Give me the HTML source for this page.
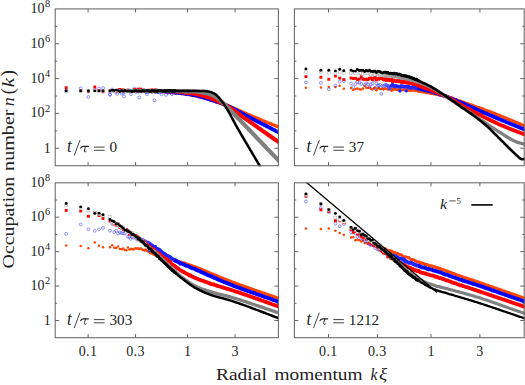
<!DOCTYPE html>
<html><head><meta charset="utf-8"><title>Occupation number</title>
<style>html,body{margin:0;padding:0;background:#fff}body{width:525px;height:385px;overflow:hidden;font-family:"Liberation Serif",serif}svg{display:block}</style>
</head><body>
<svg width="525" height="385" viewBox="0 0 525 385">
<defs>
<clipPath id="c1"><rect x="55.2" y="8.9" width="223.79999999999998" height="157.29999999999998"/></clipPath>
<clipPath id="c2"><rect x="294.4" y="8.9" width="230.40000000000006" height="157.29999999999998"/></clipPath>
<clipPath id="c3"><rect x="55.2" y="182.8" width="223.79999999999998" height="155.39999999999998"/></clipPath>
<clipPath id="c4"><rect x="294.4" y="182.8" width="230.40000000000006" height="155.39999999999998"/></clipPath>
</defs>
<rect width="525" height="385" fill="#fff"/>
<g clip-path="url(#c1)">
<g fill="#ff4500"><circle cx="66.2" cy="90.4" r="1.25"/><circle cx="80.7" cy="90.5" r="1.25"/><circle cx="88.4" cy="90.5" r="1.25"/><circle cx="94.8" cy="90.6" r="1.25"/><circle cx="99.0" cy="90.6" r="1.25"/><circle cx="103.0" cy="90.7" r="1.25"/><circle cx="110.0" cy="90.7" r="1.25"/><circle cx="112.2" cy="90.8" r="1.25"/><circle cx="114.2" cy="91.0" r="1.25"/><circle cx="116.2" cy="90.6" r="1.25"/><circle cx="118.1" cy="90.1" r="1.25"/><circle cx="119.9" cy="90.5" r="1.25"/><circle cx="121.6" cy="90.2" r="1.25"/><circle cx="123.2" cy="90.9" r="1.25"/><circle cx="124.8" cy="91.8" r="1.25"/><circle cx="126.4" cy="90.6" r="1.25"/><circle cx="127.9" cy="90.6" r="1.25"/><circle cx="129.3" cy="91.3" r="1.25"/><circle cx="130.7" cy="91.2" r="1.25"/><circle cx="132.0" cy="91.1" r="1.25"/><circle cx="133.4" cy="90.5" r="1.25"/><circle cx="134.6" cy="91.0" r="1.25"/><circle cx="135.9" cy="91.4" r="1.25"/><circle cx="137.1" cy="90.4" r="1.25"/><circle cx="138.2" cy="90.8" r="1.25"/><circle cx="139.4" cy="90.2" r="1.25"/><circle cx="140.5" cy="90.5" r="1.25"/><circle cx="141.5" cy="90.3" r="1.25"/><circle cx="142.6" cy="91.0" r="1.25"/><circle cx="143.6" cy="90.6" r="1.25"/><circle cx="144.6" cy="91.3" r="1.25"/><circle cx="145.6" cy="91.3" r="1.25"/><circle cx="146.6" cy="91.1" r="1.25"/><circle cx="147.5" cy="90.2" r="1.25"/><circle cx="148.4" cy="91.0" r="1.25"/><circle cx="149.3" cy="91.3" r="1.25"/><circle cx="150.2" cy="91.3" r="1.25"/><circle cx="151.1" cy="90.7" r="1.25"/><circle cx="151.9" cy="91.2" r="1.25"/><circle cx="152.8" cy="91.0" r="1.25"/><circle cx="153.6" cy="91.1" r="1.25"/><circle cx="154.4" cy="91.8" r="1.25"/><circle cx="155.2" cy="91.1" r="1.25"/><circle cx="155.9" cy="91.4" r="1.25"/><circle cx="156.7" cy="91.8" r="1.25"/><circle cx="157.4" cy="91.3" r="1.25"/><circle cx="158.2" cy="91.5" r="1.25"/><circle cx="158.9" cy="91.6" r="1.25"/><circle cx="159.6" cy="91.6" r="1.25"/><circle cx="160.3" cy="91.2" r="1.25"/><circle cx="161.0" cy="91.7" r="1.25"/><circle cx="161.6" cy="92.1" r="1.25"/><circle cx="162.3" cy="91.2" r="1.25"/><circle cx="163.0" cy="92.0" r="1.25"/><circle cx="163.6" cy="91.8" r="1.25"/><circle cx="164.2" cy="91.6" r="1.25"/><circle cx="164.9" cy="92.4" r="1.25"/><circle cx="165.5" cy="92.1" r="1.25"/><circle cx="166.1" cy="91.6" r="1.25"/><circle cx="166.7" cy="92.0" r="1.25"/><circle cx="167.3" cy="92.2" r="1.25"/><circle cx="167.9" cy="92.0" r="1.25"/><circle cx="168.4" cy="92.3" r="1.25"/><circle cx="169.0" cy="92.2" r="1.25"/><circle cx="169.6" cy="92.4" r="1.25"/><circle cx="170.1" cy="92.6" r="1.25"/><circle cx="170.7" cy="92.2" r="1.25"/><circle cx="171.2" cy="92.4" r="1.25"/><circle cx="171.8" cy="92.3" r="1.25"/><circle cx="172.3" cy="92.5" r="1.25"/><circle cx="172.8" cy="92.2" r="1.25"/><circle cx="173.3" cy="92.4" r="1.25"/><circle cx="173.8" cy="92.6" r="1.25"/><circle cx="174.3" cy="92.9" r="1.25"/><circle cx="174.8" cy="93.0" r="1.25"/><circle cx="175.3" cy="92.5" r="1.25"/></g>
<polyline points="174.8,92.6 175.5,92.9 176.2,92.6 176.9,92.9 177.6,93.0 178.3,93.3 179.0,93.3 179.7,93.2 180.4,93.3 181.1,93.4 181.8,93.7 182.5,93.6 183.2,93.7 183.9,93.9 184.6,93.9 185.3,94.0 186.0,94.0 186.7,94.2 187.4,94.3 188.1,94.6 188.8,94.7 189.5,94.7 190.2,94.9 190.9,94.9 191.6,95.2 192.3,95.2 193.0,95.4 193.7,95.4 194.4,95.7 195.1,95.6 195.8,95.8 196.5,96.1 197.2,96.2 197.9,96.5 198.6,96.8 199.3,96.8 200.0,97.0 200.7,97.2 201.4,97.4 202.1,97.6 202.8,97.8 203.5,98.0 204.2,98.2 204.9,98.3 205.6,98.6 206.3,98.8 207.0,98.9 207.7,99.2 208.4,99.3 209.1,99.6 209.8,99.8 210.5,100.0 211.2,100.1 211.9,100.4 212.6,100.5 213.3,100.7 214.0,101.0 214.7,101.1 215.4,101.5 216.1,101.6 216.8,102.0 217.5,102.1 218.2,102.4 218.9,102.6 219.6,102.7 220.3,103.1 221.0,103.4 221.7,103.5 222.4,103.8 223.1,104.0 223.8,104.2 224.5,104.6 225.2,104.8 225.9,105.0 226.6,105.3 227.3,105.5 228.0,105.8 228.7,106.2 229.4,106.4 230.1,106.7 230.8,107.0 231.5,107.2 232.2,107.5 232.9,107.8 233.6,108.1 234.3,108.4 235.0,108.7 235.7,109.0 236.4,109.3 237.1,109.7 237.8,109.9 238.5,110.2 239.2,110.5 239.9,110.9 240.6,111.1 241.3,111.4 242.0,111.7 242.7,112.0 243.4,112.4 244.1,112.7 244.8,113.0 245.5,113.3 246.2,113.6 246.9,113.9 247.6,114.2 248.3,114.5 249.0,114.8 249.7,115.1 250.4,115.4 251.1,115.7 251.8,116.0 252.5,116.2 253.2,116.5 253.9,116.9 254.6,117.1 255.3,117.4 256.0,117.7 256.7,118.0 257.4,118.3 258.1,118.6 258.8,118.9 259.5,119.2 260.2,119.5 260.9,119.8 261.6,120.1 262.3,120.4 263.0,120.7 263.7,121.0 264.4,121.3 265.1,121.5 265.8,121.9 266.5,122.1 267.2,122.4 267.9,122.7 268.6,123.0 269.3,123.3 270.0,123.6 270.7,123.8 271.4,124.1 272.1,124.4 272.8,124.7 273.5,125.0 274.2,125.3 274.9,125.5 275.6,125.8 276.3,126.1 277.0,126.4 277.7,126.6 278.4,126.9 279.1,127.2 279.8,127.4 280.5,127.7" fill="none" stroke="#ff4500" stroke-width="3.3" stroke-linejoin="round"/>
<g fill="none" stroke="#33f" stroke-width="0.5"><circle cx="66.2" cy="90.4" r="1.45"/><circle cx="80.7" cy="88.3" r="1.45"/><circle cx="88.4" cy="97.0" r="1.45"/><circle cx="94.8" cy="89.4" r="1.45"/><circle cx="99.0" cy="88.4" r="1.45"/><circle cx="103.0" cy="88.1" r="1.45"/><circle cx="110.0" cy="94.7" r="1.45"/><circle cx="112.2" cy="89.6" r="1.45"/><circle cx="114.2" cy="91.4" r="1.45"/><circle cx="116.2" cy="91.3" r="1.45"/><circle cx="118.1" cy="90.1" r="1.45"/><circle cx="119.9" cy="89.9" r="1.45"/><circle cx="121.6" cy="93.8" r="1.45"/><circle cx="123.2" cy="92.9" r="1.45"/><circle cx="124.8" cy="91.8" r="1.45"/><circle cx="126.4" cy="90.9" r="1.45"/><circle cx="127.9" cy="90.5" r="1.45"/><circle cx="129.3" cy="90.9" r="1.45"/><circle cx="130.7" cy="90.7" r="1.45"/><circle cx="132.0" cy="91.0" r="1.45"/><circle cx="133.4" cy="90.5" r="1.45"/><circle cx="134.6" cy="88.5" r="1.45"/><circle cx="135.9" cy="92.1" r="1.45"/><circle cx="137.1" cy="90.2" r="1.45"/><circle cx="138.2" cy="91.9" r="1.45"/><circle cx="139.4" cy="91.1" r="1.45" fill="#ededff"/><circle cx="140.5" cy="91.1" r="1.45" fill="#dadaff"/><circle cx="141.5" cy="91.5" r="1.45" fill="#c6c6ff"/><circle cx="142.6" cy="90.4" r="1.45" fill="#b2b2ff"/><circle cx="143.6" cy="90.7" r="1.45" fill="#9f9fff"/><circle cx="144.6" cy="90.4" r="1.45" fill="#8b8bff"/><circle cx="145.6" cy="91.2" r="1.45" fill="#7777ff"/><circle cx="146.6" cy="92.2" r="1.45" fill="#6464ff"/><circle cx="147.5" cy="90.9" r="1.45" fill="#5050ff"/><circle cx="148.4" cy="91.4" r="1.45" fill="#3c3cff"/><circle cx="149.3" cy="91.4" r="1.45" fill="#2929ff"/><circle cx="150.2" cy="91.3" r="1.45" fill="#1818ff"/><circle cx="151.1" cy="91.1" r="1.45" fill="#1818ff"/><circle cx="151.9" cy="91.9" r="1.45" fill="#1818ff"/><circle cx="152.8" cy="91.3" r="1.45" fill="#1818ff"/><circle cx="153.6" cy="91.0" r="1.45" fill="#1818ff"/><circle cx="154.4" cy="90.4" r="1.45" fill="#1818ff"/><circle cx="155.2" cy="91.9" r="1.45" fill="#1818ff"/><circle cx="155.9" cy="91.7" r="1.45" fill="#1818ff"/><circle cx="156.7" cy="91.5" r="1.45" fill="#1818ff"/><circle cx="157.4" cy="91.3" r="1.45" fill="#1818ff"/><circle cx="158.2" cy="92.2" r="1.45" fill="#1818ff"/><circle cx="158.9" cy="91.4" r="1.45" fill="#1818ff"/><circle cx="159.6" cy="91.2" r="1.45" fill="#1818ff"/><circle cx="160.3" cy="91.7" r="1.45" fill="#1818ff"/><circle cx="161.0" cy="91.4" r="1.45" fill="#1818ff"/><circle cx="161.6" cy="91.5" r="1.45" fill="#1818ff"/><circle cx="162.3" cy="91.4" r="1.45" fill="#1818ff"/><circle cx="163.0" cy="91.5" r="1.45" fill="#1818ff"/><circle cx="163.6" cy="91.0" r="1.45" fill="#1818ff"/><circle cx="164.2" cy="91.3" r="1.45" fill="#1818ff"/><circle cx="164.9" cy="91.4" r="1.45" fill="#1818ff"/><circle cx="165.5" cy="91.2" r="1.45" fill="#1818ff"/><circle cx="166.1" cy="91.7" r="1.45" fill="#1818ff"/><circle cx="166.7" cy="91.9" r="1.45" fill="#1818ff"/><circle cx="167.3" cy="91.5" r="1.45" fill="#1818ff"/><circle cx="167.9" cy="92.7" r="1.45" fill="#1818ff"/><circle cx="168.4" cy="91.9" r="1.45" fill="#1818ff"/><circle cx="169.0" cy="92.1" r="1.45" fill="#1818ff"/><circle cx="169.6" cy="91.6" r="1.45" fill="#1818ff"/><circle cx="170.1" cy="91.7" r="1.45" fill="#1818ff"/><circle cx="170.7" cy="92.7" r="1.45" fill="#1818ff"/><circle cx="171.2" cy="92.3" r="1.45" fill="#1818ff"/><circle cx="171.8" cy="92.1" r="1.45" fill="#1818ff"/><circle cx="172.3" cy="91.7" r="1.45" fill="#1818ff"/><circle cx="172.8" cy="92.8" r="1.45" fill="#1818ff"/><circle cx="173.3" cy="92.0" r="1.45" fill="#1818ff"/><circle cx="173.8" cy="92.2" r="1.45" fill="#1818ff"/><circle cx="174.3" cy="92.3" r="1.45" fill="#1818ff"/><circle cx="174.8" cy="92.5" r="1.45" fill="#1818ff"/><circle cx="175.3" cy="92.5" r="1.45" fill="#1818ff"/></g>
<polyline points="174.8,92.4 175.5,92.6 176.2,92.9 176.9,92.7 177.6,92.7 178.3,92.4 179.0,92.9 179.7,92.5 180.4,92.7 181.1,93.2 181.8,93.3 182.5,93.2 183.2,93.0 183.9,93.3 184.6,93.4 185.3,93.7 186.0,94.1 186.7,93.8 187.4,93.8 188.1,93.8 188.8,94.1 189.5,94.2 190.2,94.2 190.9,94.5 191.6,94.4 192.3,94.9 193.0,95.0 193.7,95.1 194.4,95.1 195.1,95.3 195.8,95.4 196.5,95.5 197.2,95.7 197.9,95.8 198.6,95.9 199.3,96.4 200.0,96.5 200.7,96.7 201.4,97.0 202.1,96.9 202.8,97.2 203.5,97.5 204.2,97.7 204.9,97.8 205.6,98.2 206.3,98.3 207.0,98.3 207.7,98.6 208.4,99.0 209.1,99.1 209.8,99.1 210.5,99.6 211.2,99.8 211.9,100.1 212.6,100.1 213.3,100.4 214.0,100.5 214.7,101.1 215.4,101.1 216.1,101.5 216.8,101.5 217.5,101.9 218.2,102.0 218.9,102.3 219.6,102.7 220.3,102.8 221.0,103.2 221.7,103.4 222.4,103.6 223.1,103.9 223.8,104.2 224.5,104.5 225.2,104.8 225.9,105.1 226.6,105.4 227.3,105.7 228.0,106.0 228.7,106.4 229.4,106.8 230.1,106.9 230.8,107.4 231.5,107.7 232.2,108.0 232.9,108.5 233.6,108.8 234.3,109.2 235.0,109.5 235.7,109.9 236.4,110.3 237.1,110.6 237.8,111.1 238.5,111.4 239.2,111.8 239.9,112.2 240.6,112.5 241.3,112.9 242.0,113.3 242.7,113.7 243.4,114.0 244.1,114.5 244.8,114.8 245.5,115.3 246.2,115.6 246.9,115.9 247.6,116.3 248.3,116.8 249.0,117.0 249.7,117.4 250.4,117.8 251.1,118.1 251.8,118.5 252.5,118.9 253.2,119.2 253.9,119.6 254.6,119.9 255.3,120.4 256.0,120.7 256.7,121.0 257.4,121.4 258.1,121.9 258.8,122.1 259.5,122.5 260.2,122.9 260.9,123.2 261.6,123.6 262.3,124.0 263.0,124.3 263.7,124.6 264.4,125.0 265.1,125.4 265.8,125.8 266.5,126.1 267.2,126.5 267.9,126.8 268.6,127.2 269.3,127.6 270.0,127.8 270.7,128.3 271.4,128.6 272.1,129.0 272.8,129.3 273.5,129.7 274.2,130.0 274.9,130.4 275.6,130.8 276.3,131.2 277.0,131.5 277.7,131.8 278.4,132.2 279.1,132.5 279.8,132.9 280.5,133.3" fill="none" stroke="#0000ff" stroke-width="3.8" stroke-linejoin="round"/>
<g fill="#f00"><rect x="64.75" y="86.26" width="2.9" height="2.9"/><rect x="79.25" y="89.00" width="2.9" height="2.9"/><rect x="86.95" y="90.24" width="2.9" height="2.9"/><rect x="93.35" y="85.57" width="2.9" height="2.9"/><rect x="97.55" y="89.10" width="2.9" height="2.9"/><rect x="101.55" y="90.33" width="2.9" height="2.9"/><rect x="108.55" y="89.68" width="2.9" height="2.9"/><rect x="110.71" y="89.10" width="2.9" height="2.9"/><rect x="112.76" y="89.15" width="2.9" height="2.9"/><rect x="114.73" y="90.36" width="2.9" height="2.9"/><rect x="116.60" y="89.13" width="2.9" height="2.9"/><rect x="118.40" y="88.00" width="2.9" height="2.9"/><rect x="120.13" y="88.69" width="2.9" height="2.9"/><rect x="121.79" y="88.49" width="2.9" height="2.9"/><rect x="123.39" y="89.22" width="2.9" height="2.9"/><rect x="124.93" y="89.18" width="2.9" height="2.9"/><rect x="126.42" y="88.67" width="2.9" height="2.9"/><rect x="127.86" y="88.97" width="2.9" height="2.9"/><rect x="129.25" y="89.35" width="2.9" height="2.9"/><rect x="130.60" y="89.41" width="2.9" height="2.9"/><rect x="131.91" y="89.00" width="2.9" height="2.9"/><rect x="133.18" y="88.15" width="2.9" height="2.9"/><rect x="134.41" y="89.49" width="2.9" height="2.9"/><rect x="135.61" y="89.18" width="2.9" height="2.9"/><rect x="136.78" y="87.69" width="2.9" height="2.9"/><rect x="137.91" y="89.14" width="2.9" height="2.9"/><rect x="139.02" y="87.61" width="2.9" height="2.9"/><rect x="140.10" y="89.54" width="2.9" height="2.9"/><rect x="141.15" y="89.25" width="2.9" height="2.9"/><rect x="142.18" y="88.66" width="2.9" height="2.9"/><rect x="143.19" y="89.61" width="2.9" height="2.9"/><rect x="144.17" y="89.69" width="2.9" height="2.9"/><rect x="145.13" y="89.39" width="2.9" height="2.9"/><rect x="146.07" y="89.72" width="2.9" height="2.9"/><rect x="146.98" y="88.85" width="2.9" height="2.9"/><rect x="147.88" y="90.06" width="2.9" height="2.9"/><rect x="148.77" y="89.65" width="2.9" height="2.9"/><rect x="149.63" y="88.76" width="2.9" height="2.9"/><rect x="150.48" y="88.51" width="2.9" height="2.9"/><rect x="151.31" y="88.97" width="2.9" height="2.9"/><rect x="152.12" y="89.33" width="2.9" height="2.9"/><rect x="152.92" y="89.45" width="2.9" height="2.9"/><rect x="153.71" y="90.29" width="2.9" height="2.9"/><rect x="154.48" y="88.38" width="2.9" height="2.9"/><rect x="155.24" y="89.15" width="2.9" height="2.9"/><rect x="155.98" y="89.80" width="2.9" height="2.9"/><rect x="156.71" y="89.69" width="2.9" height="2.9"/><rect x="157.43" y="89.38" width="2.9" height="2.9"/><rect x="158.14" y="89.93" width="2.9" height="2.9"/><rect x="158.84" y="90.06" width="2.9" height="2.9"/><rect x="159.52" y="89.59" width="2.9" height="2.9"/><rect x="160.20" y="89.37" width="2.9" height="2.9"/><rect x="160.86" y="89.91" width="2.9" height="2.9"/><rect x="161.52" y="89.83" width="2.9" height="2.9"/><rect x="162.16" y="89.62" width="2.9" height="2.9"/><rect x="162.80" y="89.48" width="2.9" height="2.9"/><rect x="163.42" y="89.66" width="2.9" height="2.9"/><rect x="164.04" y="89.90" width="2.9" height="2.9"/><rect x="164.65" y="89.79" width="2.9" height="2.9"/><rect x="165.25" y="88.96" width="2.9" height="2.9"/><rect x="165.84" y="89.99" width="2.9" height="2.9"/><rect x="166.42" y="90.35" width="2.9" height="2.9"/><rect x="167.00" y="89.95" width="2.9" height="2.9"/><rect x="167.57" y="90.10" width="2.9" height="2.9"/><rect x="168.13" y="89.87" width="2.9" height="2.9"/><rect x="168.68" y="90.46" width="2.9" height="2.9"/><rect x="169.23" y="89.90" width="2.9" height="2.9"/><rect x="169.77" y="90.30" width="2.9" height="2.9"/><rect x="170.30" y="90.35" width="2.9" height="2.9"/><rect x="170.83" y="89.91" width="2.9" height="2.9"/><rect x="171.35" y="90.19" width="2.9" height="2.9"/><rect x="171.86" y="89.59" width="2.9" height="2.9"/><rect x="172.37" y="90.10" width="2.9" height="2.9"/><rect x="172.87" y="89.63" width="2.9" height="2.9"/><rect x="173.37" y="90.17" width="2.9" height="2.9"/><rect x="173.86" y="89.94" width="2.9" height="2.9"/></g>
<polyline points="174.8,91.5 175.5,91.7 176.2,91.4 176.9,91.5 177.6,91.7 178.3,91.6 179.0,91.8 179.7,91.8 180.4,91.7 181.1,91.9 181.8,91.9 182.5,92.2 183.2,92.1 183.9,92.2 184.6,92.5 185.3,92.7 186.0,92.7 186.7,92.6 187.4,92.7 188.1,92.9 188.8,92.8 189.5,92.8 190.2,93.1 190.9,93.2 191.6,93.2 192.3,93.2 193.0,93.3 193.7,93.7 194.4,93.6 195.1,93.8 195.8,94.0 196.5,94.2 197.2,94.2 197.9,94.5 198.6,94.5 199.3,94.7 200.0,94.8 200.7,95.2 201.4,95.2 202.1,95.3 202.8,95.6 203.5,95.8 204.2,96.0 204.9,96.0 205.6,96.3 206.3,96.5 207.0,97.0 207.7,97.1 208.4,97.2 209.1,97.5 209.8,97.8 210.5,97.9 211.2,98.2 211.9,98.6 212.6,98.8 213.3,99.1 214.0,99.3 214.7,99.8 215.4,100.1 216.1,100.3 216.8,100.7 217.5,100.8 218.2,101.3 218.9,101.6 219.6,102.0 220.3,102.4 221.0,102.7 221.7,102.9 222.4,103.4 223.1,103.7 223.8,104.1 224.5,104.5 225.2,104.9 225.9,105.1 226.6,105.7 227.3,106.1 228.0,106.6 228.7,107.0 229.4,107.4 230.1,107.8 230.8,108.3 231.5,108.7 232.2,109.2 232.9,109.7 233.6,110.1 234.3,110.7 235.0,111.1 235.7,111.7 236.4,112.2 237.1,112.7 237.8,113.2 238.5,113.7 239.2,114.2 239.9,114.7 240.6,115.3 241.3,115.9 242.0,116.4 242.7,116.8 243.4,117.3 244.1,117.8 244.8,118.3 245.5,118.8 246.2,119.2 246.9,119.7 247.6,120.2 248.3,120.7 249.0,121.2 249.7,121.6 250.4,122.2 251.1,122.7 251.8,123.1 252.5,123.6 253.2,124.1 253.9,124.6 254.6,125.1 255.3,125.6 256.0,126.1 256.7,126.6 257.4,127.1 258.1,127.6 258.8,128.1 259.5,128.6 260.2,129.1 260.9,129.6 261.6,130.0 262.3,130.6 263.0,131.1 263.7,131.6 264.4,132.1 265.1,132.6 265.8,133.0 266.5,133.6 267.2,134.0 267.9,134.5 268.6,135.1 269.3,135.5 270.0,136.0 270.7,136.5 271.4,137.0 272.1,137.5 272.8,138.0 273.5,138.5 274.2,139.0 274.9,139.5 275.6,139.9 276.3,140.4 277.0,140.9 277.7,141.4 278.4,141.9 279.1,142.4 279.8,142.8 280.5,143.4" fill="none" stroke="#ff0000" stroke-width="4.1" stroke-linejoin="round"/>
<g fill="#fff" stroke="#999" stroke-width="0.42"><rect x="64.8" y="90.2" width="2.8" height="2.8"/><rect x="79.3" y="89.8" width="2.8" height="2.8"/><rect x="87.0" y="89.5" width="2.8" height="2.8"/><rect x="93.4" y="89.0" width="2.8" height="2.8"/><rect x="97.6" y="89.8" width="2.8" height="2.8"/><rect x="101.6" y="89.5" width="2.8" height="2.8"/><rect x="108.6" y="89.9" width="2.8" height="2.8"/><rect x="110.8" y="89.5" width="2.8" height="2.8"/><rect x="112.8" y="89.7" width="2.8" height="2.8"/><rect x="114.8" y="89.6" width="2.8" height="2.8"/><rect x="116.7" y="89.8" width="2.8" height="2.8"/><rect x="118.5" y="89.6" width="2.8" height="2.8"/><rect x="120.2" y="90.0" width="2.8" height="2.8"/><rect x="121.8" y="89.7" width="2.8" height="2.8"/><rect x="123.4" y="89.7" width="2.8" height="2.8"/><rect x="125.0" y="89.7" width="2.8" height="2.8"/><rect x="126.5" y="89.1" width="2.8" height="2.8"/><rect x="127.9" y="89.5" width="2.8" height="2.8"/><rect x="129.3" y="89.5" width="2.8" height="2.8" fill="#fafafa"/><rect x="130.6" y="89.6" width="2.8" height="2.8" fill="#f4f4f4"/><rect x="132.0" y="89.2" width="2.8" height="2.8" fill="#efefef"/><rect x="133.2" y="90.1" width="2.8" height="2.8" fill="#eaeaea"/><rect x="134.5" y="89.6" width="2.8" height="2.8" fill="#e5e5e5"/><rect x="135.7" y="89.2" width="2.8" height="2.8" fill="#e0e0e0"/><rect x="136.8" y="89.1" width="2.8" height="2.8" fill="#dbdbdb"/><rect x="138.0" y="89.5" width="2.8" height="2.8" fill="#d5d5d5"/><rect x="139.1" y="89.6" width="2.8" height="2.8" fill="#d0d0d0"/><rect x="140.1" y="89.4" width="2.8" height="2.8" fill="#cbcbcb"/><rect x="141.2" y="89.6" width="2.8" height="2.8" fill="#c6c6c6"/><rect x="142.2" y="89.4" width="2.8" height="2.8" fill="#c1c1c1"/><rect x="143.2" y="89.7" width="2.8" height="2.8" fill="#bbbbbb"/><rect x="144.2" y="89.4" width="2.8" height="2.8" fill="#b6b6b6"/><rect x="145.2" y="89.6" width="2.8" height="2.8" fill="#b1b1b1"/><rect x="146.1" y="89.8" width="2.8" height="2.8" fill="#acacac"/><rect x="147.0" y="90.2" width="2.8" height="2.8" fill="#a7a7a7"/><rect x="147.9" y="89.4" width="2.8" height="2.8" fill="#a1a1a1"/><rect x="148.8" y="89.5" width="2.8" height="2.8" fill="#9c9c9c"/><rect x="149.7" y="89.4" width="2.8" height="2.8" fill="#979797"/><rect x="150.5" y="89.8" width="2.8" height="2.8" fill="#929292"/><rect x="151.4" y="89.4" width="2.8" height="2.8" fill="#8d8d8d"/><rect x="152.2" y="89.5" width="2.8" height="2.8" fill="#888888"/><rect x="153.0" y="89.6" width="2.8" height="2.8" fill="#858585"/><rect x="153.8" y="89.4" width="2.8" height="2.8" fill="#858585"/><rect x="154.5" y="89.4" width="2.8" height="2.8" fill="#858585"/><rect x="155.3" y="89.5" width="2.8" height="2.8" fill="#858585"/><rect x="156.0" y="89.2" width="2.8" height="2.8" fill="#858585"/><rect x="156.8" y="89.4" width="2.8" height="2.8" fill="#858585"/><rect x="157.5" y="89.5" width="2.8" height="2.8" fill="#858585"/><rect x="158.2" y="89.7" width="2.8" height="2.8" fill="#858585"/><rect x="158.9" y="89.6" width="2.8" height="2.8" fill="#858585"/><rect x="159.6" y="89.3" width="2.8" height="2.8" fill="#858585"/><rect x="160.2" y="89.6" width="2.8" height="2.8" fill="#858585"/><rect x="160.9" y="89.8" width="2.8" height="2.8" fill="#858585"/><rect x="161.6" y="89.7" width="2.8" height="2.8" fill="#858585"/><rect x="162.2" y="89.6" width="2.8" height="2.8" fill="#858585"/><rect x="162.8" y="89.5" width="2.8" height="2.8" fill="#858585"/><rect x="163.5" y="89.7" width="2.8" height="2.8" fill="#858585"/><rect x="164.1" y="89.6" width="2.8" height="2.8" fill="#858585"/><rect x="164.7" y="89.5" width="2.8" height="2.8" fill="#858585"/><rect x="165.3" y="89.5" width="2.8" height="2.8" fill="#858585"/><rect x="165.9" y="89.9" width="2.8" height="2.8" fill="#858585"/><rect x="166.5" y="89.7" width="2.8" height="2.8" fill="#858585"/><rect x="167.0" y="89.8" width="2.8" height="2.8" fill="#858585"/><rect x="167.6" y="89.6" width="2.8" height="2.8" fill="#858585"/><rect x="168.2" y="89.8" width="2.8" height="2.8" fill="#858585"/><rect x="168.7" y="89.6" width="2.8" height="2.8" fill="#858585"/><rect x="169.3" y="89.7" width="2.8" height="2.8" fill="#858585"/><rect x="169.8" y="90.0" width="2.8" height="2.8" fill="#858585"/><rect x="170.4" y="89.8" width="2.8" height="2.8" fill="#858585"/><rect x="170.9" y="89.6" width="2.8" height="2.8" fill="#858585"/><rect x="171.4" y="89.7" width="2.8" height="2.8" fill="#858585"/><rect x="171.9" y="89.7" width="2.8" height="2.8" fill="#858585"/><rect x="172.4" y="89.9" width="2.8" height="2.8" fill="#858585"/><rect x="172.9" y="89.6" width="2.8" height="2.8" fill="#858585"/><rect x="173.4" y="89.5" width="2.8" height="2.8" fill="#858585"/><rect x="173.9" y="89.7" width="2.8" height="2.8" fill="#858585"/></g>
<polyline points="174.8,91.1 175.5,91.1 176.2,91.2 176.9,91.2 177.6,91.2 178.3,91.1 179.0,91.2 179.7,91.3 180.4,91.2 181.1,91.2 181.8,91.2 182.5,91.3 183.2,91.1 183.9,91.2 184.6,91.3 185.3,91.3 186.0,91.2 186.7,91.3 187.4,91.2 188.1,91.3 188.8,91.3 189.5,91.2 190.2,91.3 190.9,91.4 191.6,91.3 192.3,91.3 193.0,91.4 193.7,91.3 194.4,91.4 195.1,91.3 195.8,91.5 196.5,91.6 197.2,91.6 197.9,91.6 198.6,91.7 199.3,91.8 200.0,91.9 200.7,92.1 201.4,92.1 202.1,92.4 202.8,92.5 203.5,92.7 204.2,92.8 204.9,92.9 205.6,93.1 206.3,93.3 207.0,93.5 207.7,93.6 208.4,93.8 209.1,93.9 209.8,94.3 210.5,94.5 211.2,94.7 211.9,95.0 212.6,95.3 213.3,95.6 214.0,95.9 214.7,96.2 215.4,96.7 216.1,97.1 216.8,97.6 217.5,98.1 218.2,98.7 218.9,99.3 219.6,99.9 220.3,100.4 221.0,101.1 221.7,101.7 222.4,102.4 223.1,103.0 223.8,103.7 224.5,104.4 225.2,105.1 225.9,105.8 226.6,106.5 227.3,107.2 228.0,107.9 228.7,108.6 229.4,109.3 230.1,110.0 230.8,110.7 231.5,111.5 232.2,112.1 232.9,112.9 233.6,113.6 234.3,114.3 235.0,115.1 235.7,115.7 236.4,116.5 237.1,117.2 237.8,118.0 238.5,118.7 239.2,119.3 239.9,120.1 240.6,120.8 241.3,121.6 242.0,122.3 242.7,123.0 243.4,123.7 244.1,124.5 244.8,125.2 245.5,125.9 246.2,126.6 246.9,127.4 247.6,128.1 248.3,128.8 249.0,129.6 249.7,130.3 250.4,131.0 251.1,131.8 251.8,132.5 252.5,133.2 253.2,134.0 253.9,134.7 254.6,135.5 255.3,136.2 256.0,136.9 256.7,137.7 257.4,138.4 258.1,139.1 258.8,139.9 259.5,140.6 260.2,141.3 260.9,142.1 261.6,142.8 262.3,143.5 263.0,144.3 263.7,145.0 264.4,145.7 265.1,146.5 265.8,147.2 266.5,147.9 267.2,148.7 267.9,149.4 268.6,150.1 269.3,150.9 270.0,151.6 270.7,152.3 271.4,153.0 272.1,153.8 272.8,154.5 273.5,155.2 274.2,155.9 274.9,156.6 275.6,157.4 276.3,158.1 277.0,158.8 277.7,159.5 278.4,160.2 279.1,160.9 279.8,161.6 280.5,162.3" fill="none" stroke="#808080" stroke-width="4.2" stroke-linejoin="round"/>
<g fill="#000"><circle cx="66.2" cy="90.9" r="1.45"/><circle cx="80.7" cy="90.9" r="1.45"/><circle cx="88.4" cy="90.9" r="1.45"/><circle cx="94.8" cy="90.9" r="1.45"/><circle cx="99.0" cy="90.9" r="1.45"/><circle cx="103.0" cy="90.9" r="1.45"/><circle cx="110.0" cy="90.9" r="1.45"/><circle cx="112.2" cy="90.2" r="1.45"/><circle cx="114.2" cy="90.5" r="1.45"/><circle cx="116.2" cy="90.1" r="1.45"/><circle cx="118.1" cy="90.6" r="1.45"/><circle cx="119.9" cy="91.5" r="1.45"/><circle cx="121.6" cy="90.6" r="1.45"/><circle cx="123.2" cy="91.2" r="1.45"/><circle cx="124.8" cy="90.5" r="1.45"/><circle cx="126.4" cy="91.1" r="1.45"/><circle cx="127.9" cy="90.9" r="1.45"/><circle cx="129.3" cy="91.0" r="1.45"/><circle cx="130.7" cy="91.1" r="1.45"/><circle cx="132.0" cy="91.5" r="1.45"/><circle cx="133.4" cy="91.0" r="1.45"/><circle cx="134.6" cy="91.0" r="1.45"/><circle cx="135.9" cy="90.7" r="1.45"/><circle cx="137.1" cy="91.1" r="1.45"/><circle cx="138.2" cy="90.9" r="1.45"/><circle cx="139.4" cy="91.2" r="1.45"/><circle cx="140.5" cy="91.0" r="1.45"/><circle cx="141.5" cy="91.4" r="1.45"/><circle cx="142.6" cy="90.5" r="1.45"/><circle cx="143.6" cy="90.9" r="1.45"/><circle cx="144.6" cy="91.2" r="1.45"/><circle cx="145.6" cy="90.9" r="1.45"/><circle cx="146.6" cy="90.8" r="1.45"/><circle cx="147.5" cy="90.9" r="1.45"/><circle cx="148.4" cy="90.7" r="1.45"/><circle cx="149.3" cy="91.0" r="1.45"/><circle cx="150.2" cy="91.5" r="1.45"/><circle cx="151.1" cy="91.2" r="1.45"/><circle cx="151.9" cy="90.8" r="1.45"/><circle cx="152.8" cy="90.8" r="1.45"/><circle cx="153.6" cy="90.9" r="1.45"/><circle cx="154.4" cy="91.2" r="1.45"/><circle cx="155.2" cy="90.9" r="1.45"/><circle cx="155.9" cy="90.9" r="1.45"/><circle cx="156.7" cy="91.2" r="1.45"/><circle cx="157.4" cy="91.2" r="1.45"/><circle cx="158.2" cy="90.9" r="1.45"/><circle cx="158.9" cy="90.8" r="1.45"/><circle cx="159.6" cy="90.8" r="1.45"/><circle cx="160.3" cy="90.9" r="1.45"/><circle cx="161.0" cy="90.7" r="1.45"/><circle cx="161.6" cy="91.1" r="1.45"/><circle cx="162.3" cy="90.9" r="1.45"/><circle cx="163.0" cy="91.1" r="1.45"/><circle cx="163.6" cy="91.3" r="1.45"/><circle cx="164.2" cy="91.2" r="1.45"/><circle cx="164.9" cy="90.8" r="1.45"/><circle cx="165.5" cy="91.1" r="1.45"/><circle cx="166.1" cy="91.2" r="1.45"/><circle cx="166.7" cy="90.9" r="1.45"/><circle cx="167.3" cy="90.9" r="1.45"/><circle cx="167.9" cy="91.0" r="1.45"/><circle cx="168.4" cy="90.8" r="1.45"/><circle cx="169.0" cy="91.2" r="1.45"/><circle cx="169.6" cy="90.7" r="1.45"/><circle cx="170.1" cy="90.9" r="1.45"/><circle cx="170.7" cy="91.0" r="1.45"/><circle cx="171.2" cy="91.0" r="1.45"/><circle cx="171.8" cy="91.0" r="1.45"/><circle cx="172.3" cy="91.1" r="1.45"/><circle cx="172.8" cy="91.0" r="1.45"/><circle cx="173.3" cy="91.2" r="1.45"/><circle cx="173.8" cy="90.8" r="1.45"/><circle cx="174.3" cy="91.0" r="1.45"/><circle cx="174.8" cy="90.9" r="1.45"/><circle cx="175.3" cy="91.0" r="1.45"/></g>
<polyline points="174.8,91.0 175.5,91.0 176.2,91.0 176.9,91.1 177.6,91.0 178.3,91.0 179.0,91.2 179.7,91.2 180.4,90.9 181.1,91.0 181.8,91.2 182.5,91.1 183.2,91.0 183.9,91.0 184.6,91.0 185.3,91.0 186.0,91.0 186.7,91.1 187.4,91.0 188.1,91.0 188.8,91.0 189.5,91.0 190.2,91.0 190.9,91.0 191.6,91.1 192.3,91.1 193.0,91.1 193.7,91.1 194.4,91.1 195.1,91.1 195.8,91.0 196.5,91.1 197.2,91.0 197.9,91.1 198.6,91.1 199.3,91.0 200.0,91.1 200.7,91.1 201.4,91.1 202.1,91.1 202.8,91.1 203.5,91.1 204.2,91.0 204.9,91.1 205.6,91.0 206.3,91.2 207.0,91.3 207.7,91.4 208.4,91.4 209.1,91.6 209.8,91.8 210.5,91.9 211.2,92.1 211.9,92.4 212.6,92.8 213.3,93.1 214.0,93.4 214.7,93.8 215.4,94.3 216.1,94.8 216.8,95.4 217.5,96.1 218.2,96.8 218.9,97.6 219.6,98.5 220.3,99.4 221.0,100.3 221.7,101.2 222.4,102.1 223.1,103.1 223.8,104.1 224.5,105.1 225.2,106.1 225.9,107.2 226.6,108.3 227.3,109.5 228.0,110.7 228.7,111.9 229.4,113.2 230.1,114.4 230.8,115.7 231.5,117.0 232.2,118.3 232.9,119.6 233.6,120.9 234.3,122.2 235.0,123.5 235.7,124.8 236.4,126.1 237.1,127.3 237.8,128.6 238.5,129.8 239.2,131.0 239.9,132.2 240.6,133.4 241.3,134.6 242.0,135.8 242.7,137.0 243.4,138.2 244.1,139.4 244.8,140.6 245.5,141.8 246.2,143.0 246.9,144.2 247.6,145.4 248.3,146.6 249.0,147.7 249.7,148.9 250.4,150.1 251.1,151.2 251.8,152.4 252.5,153.6 253.2,154.8 253.9,155.9 254.6,157.1 255.3,158.3 256.0,159.5 256.7,160.7 257.4,161.9 258.1,163.1 258.8,164.2 259.5,165.5 260.2,166.6 260.9,167.8 261.6,169.1 262.3,170.2 263.0,171.4 263.7,172.6 264.4,173.8 265.1,175.0 265.8,176.2 266.5,177.4 267.2,178.6 267.9,179.8 268.6,181.0 269.3,182.1 270.0,183.3 270.7,184.5 271.4,185.7 272.1,186.8 272.8,188.0 273.5,189.2 274.2,190.3 274.9,191.5 275.6,192.6 276.3,193.7 277.0,194.9 277.7,196.0 278.4,197.1 279.1,198.3 279.8,199.3 280.5,200.4" fill="none" stroke="#000" stroke-width="2.5" stroke-linejoin="round"/>
<g fill="none" stroke="#33f" stroke-width="0.5"><circle cx="110.0" cy="94.6" r="1.45"/><circle cx="117.2" cy="93.9" r="1.45"/><circle cx="124.0" cy="96.4" r="1.45"/><circle cx="131.0" cy="94.3" r="1.45"/><circle cx="139.3" cy="97.5" r="1.45"/><circle cx="147.0" cy="94.1" r="1.45"/><circle cx="154.4" cy="100.3" r="1.45"/><circle cx="161.5" cy="94.3" r="1.45"/><circle cx="166.0" cy="94.9" r="1.45"/><circle cx="172.0" cy="94.2" r="1.45"/></g>
</g>
<g clip-path="url(#c2)">
<g fill="#ff4500"><circle cx="305.9" cy="87.8" r="1.25"/><circle cx="320.9" cy="87.6" r="1.25"/><circle cx="328.8" cy="87.1" r="1.25"/><circle cx="335.4" cy="87.1" r="1.25"/><circle cx="339.7" cy="85.7" r="1.25"/><circle cx="343.8" cy="88.8" r="1.25"/><circle cx="351.1" cy="88.0" r="1.25"/><circle cx="353.3" cy="89.9" r="1.25"/><circle cx="355.4" cy="88.9" r="1.25"/><circle cx="357.4" cy="88.4" r="1.25"/><circle cx="359.4" cy="89.2" r="1.25"/><circle cx="361.2" cy="89.4" r="1.25"/><circle cx="363.0" cy="88.6" r="1.25"/><circle cx="364.7" cy="85.9" r="1.25"/><circle cx="366.3" cy="87.7" r="1.25"/><circle cx="367.9" cy="88.0" r="1.25"/><circle cx="369.5" cy="87.6" r="1.25"/><circle cx="370.9" cy="88.7" r="1.25"/><circle cx="372.4" cy="89.6" r="1.25"/><circle cx="373.8" cy="88.2" r="1.25"/><circle cx="375.1" cy="87.7" r="1.25"/><circle cx="376.4" cy="90.3" r="1.25"/><circle cx="377.7" cy="88.4" r="1.25"/><circle cx="378.9" cy="87.9" r="1.25"/><circle cx="380.1" cy="89.0" r="1.25"/><circle cx="381.3" cy="89.1" r="1.25"/><circle cx="382.4" cy="88.4" r="1.25"/><circle cx="383.6" cy="89.4" r="1.25"/><circle cx="384.6" cy="88.6" r="1.25"/><circle cx="385.7" cy="88.4" r="1.25"/><circle cx="386.7" cy="89.1" r="1.25"/><circle cx="387.8" cy="89.5" r="1.25"/><circle cx="388.7" cy="88.6" r="1.25"/><circle cx="389.7" cy="89.3" r="1.25"/><circle cx="390.7" cy="89.0" r="1.25"/><circle cx="391.6" cy="90.7" r="1.25"/><circle cx="392.5" cy="88.7" r="1.25"/><circle cx="393.4" cy="89.9" r="1.25"/><circle cx="394.3" cy="89.2" r="1.25"/><circle cx="395.1" cy="89.1" r="1.25"/><circle cx="395.9" cy="89.6" r="1.25"/><circle cx="396.8" cy="89.7" r="1.25"/><circle cx="397.6" cy="89.9" r="1.25"/><circle cx="398.4" cy="89.5" r="1.25"/><circle cx="399.2" cy="89.0" r="1.25"/><circle cx="399.9" cy="89.1" r="1.25"/><circle cx="400.7" cy="89.6" r="1.25"/><circle cx="401.4" cy="89.7" r="1.25"/><circle cx="402.1" cy="90.1" r="1.25"/><circle cx="402.9" cy="89.7" r="1.25"/><circle cx="403.6" cy="90.0" r="1.25"/><circle cx="404.3" cy="90.2" r="1.25"/><circle cx="404.9" cy="89.7" r="1.25"/><circle cx="405.6" cy="89.0" r="1.25"/><circle cx="406.3" cy="89.2" r="1.25"/><circle cx="406.9" cy="89.1" r="1.25"/><circle cx="407.6" cy="90.4" r="1.25"/><circle cx="408.2" cy="89.5" r="1.25"/><circle cx="408.8" cy="90.4" r="1.25"/><circle cx="409.5" cy="90.2" r="1.25"/><circle cx="410.1" cy="90.7" r="1.25"/><circle cx="410.7" cy="90.4" r="1.25"/><circle cx="411.3" cy="90.1" r="1.25"/><circle cx="411.9" cy="90.1" r="1.25"/><circle cx="412.4" cy="90.2" r="1.25"/><circle cx="413.0" cy="90.3" r="1.25"/><circle cx="413.6" cy="90.2" r="1.25"/><circle cx="414.1" cy="90.4" r="1.25"/><circle cx="414.7" cy="91.1" r="1.25"/><circle cx="415.2" cy="89.9" r="1.25"/><circle cx="415.8" cy="90.7" r="1.25"/><circle cx="416.3" cy="90.4" r="1.25"/><circle cx="416.8" cy="90.8" r="1.25"/><circle cx="417.3" cy="91.1" r="1.25"/><circle cx="417.8" cy="90.9" r="1.25"/><circle cx="418.3" cy="91.2" r="1.25"/></g>
<polyline points="417.8,90.6 418.5,91.2 419.2,91.0 419.9,91.3 420.6,91.3 421.3,90.9 422.0,91.4 422.7,91.7 423.4,92.0 424.1,91.9 424.8,92.0 425.5,91.8 426.2,92.4 426.9,92.6 427.6,92.4 428.3,92.5 429.0,92.4 429.7,92.9 430.4,93.3 431.1,93.1 431.8,93.4 432.5,93.4 433.2,93.3 433.9,93.8 434.6,93.5 435.3,93.8 436.0,94.1 436.7,94.3 437.4,94.4 438.1,94.6 438.8,94.6 439.5,94.7 440.2,95.0 440.9,95.1 441.6,95.2 442.3,95.4 443.0,95.7 443.7,95.7 444.4,95.9 445.1,96.1 445.8,96.5 446.5,96.7 447.2,97.1 447.9,96.9 448.6,97.2 449.3,97.6 450.0,97.7 450.7,97.9 451.4,98.3 452.1,98.4 452.8,98.5 453.5,98.8 454.2,99.2 454.9,99.4 455.6,99.5 456.3,99.8 457.0,100.2 457.7,100.5 458.4,100.6 459.1,101.0 459.8,101.2 460.5,101.2 461.2,101.6 461.9,101.9 462.6,102.1 463.3,102.2 464.0,102.6 464.7,102.9 465.4,103.2 466.1,103.1 466.8,103.8 467.5,103.7 468.2,104.1 468.9,104.4 469.6,104.6 470.3,104.8 471.0,104.9 471.7,105.3 472.4,105.4 473.1,105.6 473.8,106.2 474.5,106.3 475.2,106.6 475.9,106.7 476.6,107.0 477.3,107.3 478.0,107.5 478.7,107.7 479.4,107.9 480.1,108.2 480.8,108.3 481.5,108.6 482.2,109.0 482.9,109.1 483.6,109.4 484.3,109.7 485.0,110.1 485.7,110.3 486.4,110.5 487.1,110.8 487.8,111.0 488.5,111.2 489.2,111.6 489.9,111.7 490.6,112.0 491.3,112.2 492.0,112.6 492.7,112.9 493.4,113.1 494.1,113.4 494.8,113.6 495.5,113.9 496.2,114.2 496.9,114.6 497.6,114.9 498.3,115.1 499.0,115.3 499.7,115.6 500.4,115.9 501.1,116.2 501.8,116.5 502.5,116.8 503.2,117.1 503.9,117.3 504.6,117.6 505.3,117.8 506.0,118.2 506.7,118.4 507.4,118.8 508.1,119.0 508.8,119.3 509.5,119.6 510.2,119.9 510.9,120.2 511.6,120.5 512.3,120.8 513.0,121.1 513.7,121.4 514.4,121.6 515.1,122.0 515.8,122.2 516.5,122.6 517.2,122.8 517.9,123.0 518.6,123.4 519.3,123.7 520.0,123.9 520.7,124.2 521.4,124.5 522.1,124.8 522.8,125.0 523.5,125.3 524.2,125.6 524.9,125.9 525.6,126.2 526.3,126.4" fill="none" stroke="#ff4500" stroke-width="3.3" stroke-linejoin="round"/>
<g fill="none" stroke="#33f" stroke-width="0.5"><circle cx="305.9" cy="82.4" r="1.45"/><circle cx="320.9" cy="82.9" r="1.45"/><circle cx="328.8" cy="89.3" r="1.45"/><circle cx="335.4" cy="85.7" r="1.45"/><circle cx="339.7" cy="81.6" r="1.45"/><circle cx="343.8" cy="81.1" r="1.45"/><circle cx="351.1" cy="83.5" r="1.45"/><circle cx="353.3" cy="87.0" r="1.45"/><circle cx="355.4" cy="84.1" r="1.45"/><circle cx="357.4" cy="82.1" r="1.45"/><circle cx="359.4" cy="82.7" r="1.45"/><circle cx="361.2" cy="83.9" r="1.45"/><circle cx="363.0" cy="79.4" r="1.45"/><circle cx="364.7" cy="84.9" r="1.45"/><circle cx="366.3" cy="83.2" r="1.45"/><circle cx="367.9" cy="84.2" r="1.45"/><circle cx="369.5" cy="87.1" r="1.45"/><circle cx="370.9" cy="84.4" r="1.45"/><circle cx="372.4" cy="83.7" r="1.45"/><circle cx="373.8" cy="80.1" r="1.45"/><circle cx="375.1" cy="88.2" r="1.45"/><circle cx="376.4" cy="83.7" r="1.45"/><circle cx="377.7" cy="85.3" r="1.45"/><circle cx="378.9" cy="85.6" r="1.45"/><circle cx="380.1" cy="84.8" r="1.45"/><circle cx="381.3" cy="93.9" r="1.45" fill="#ededff"/><circle cx="382.4" cy="85.5" r="1.45" fill="#dadaff"/><circle cx="383.6" cy="86.2" r="1.45" fill="#c6c6ff"/><circle cx="384.6" cy="85.6" r="1.45" fill="#b2b2ff"/><circle cx="385.7" cy="84.8" r="1.45" fill="#9f9fff"/><circle cx="386.7" cy="85.3" r="1.45" fill="#8b8bff"/><circle cx="387.8" cy="85.7" r="1.45" fill="#7777ff"/><circle cx="388.7" cy="86.9" r="1.45" fill="#6464ff"/><circle cx="389.7" cy="88.9" r="1.45" fill="#5050ff"/><circle cx="390.7" cy="85.9" r="1.45" fill="#3c3cff"/><circle cx="391.6" cy="86.1" r="1.45" fill="#2929ff"/><circle cx="392.5" cy="84.5" r="1.45" fill="#1818ff"/><circle cx="393.4" cy="86.0" r="1.45" fill="#1818ff"/><circle cx="394.3" cy="86.7" r="1.45" fill="#1818ff"/><circle cx="395.1" cy="85.9" r="1.45" fill="#1818ff"/><circle cx="395.9" cy="85.8" r="1.45" fill="#1818ff"/><circle cx="396.8" cy="86.0" r="1.45" fill="#1818ff"/><circle cx="397.6" cy="86.9" r="1.45" fill="#1818ff"/><circle cx="398.4" cy="86.6" r="1.45" fill="#1818ff"/><circle cx="399.2" cy="86.5" r="1.45" fill="#1818ff"/><circle cx="399.9" cy="91.0" r="1.45" fill="#1818ff"/><circle cx="400.7" cy="87.1" r="1.45" fill="#1818ff"/><circle cx="401.4" cy="85.7" r="1.45" fill="#1818ff"/><circle cx="402.1" cy="86.4" r="1.45" fill="#1818ff"/><circle cx="402.9" cy="86.6" r="1.45" fill="#1818ff"/><circle cx="403.6" cy="86.4" r="1.45" fill="#1818ff"/><circle cx="404.3" cy="87.0" r="1.45" fill="#1818ff"/><circle cx="404.9" cy="86.6" r="1.45" fill="#1818ff"/><circle cx="405.6" cy="86.4" r="1.45" fill="#1818ff"/><circle cx="406.3" cy="90.9" r="1.45" fill="#1818ff"/><circle cx="406.9" cy="87.1" r="1.45" fill="#1818ff"/><circle cx="407.6" cy="86.5" r="1.45" fill="#1818ff"/><circle cx="408.2" cy="86.1" r="1.45" fill="#1818ff"/><circle cx="408.8" cy="87.4" r="1.45" fill="#1818ff"/><circle cx="409.5" cy="87.3" r="1.45" fill="#1818ff"/><circle cx="410.1" cy="87.5" r="1.45" fill="#1818ff"/><circle cx="410.7" cy="88.3" r="1.45" fill="#1818ff"/><circle cx="411.3" cy="87.2" r="1.45" fill="#1818ff"/><circle cx="411.9" cy="87.6" r="1.45" fill="#1818ff"/><circle cx="412.4" cy="87.6" r="1.45" fill="#1818ff"/><circle cx="413.0" cy="86.8" r="1.45" fill="#1818ff"/><circle cx="413.6" cy="87.6" r="1.45" fill="#1818ff"/><circle cx="414.1" cy="87.1" r="1.45" fill="#1818ff"/><circle cx="414.7" cy="87.9" r="1.45" fill="#1818ff"/><circle cx="415.2" cy="87.5" r="1.45" fill="#1818ff"/><circle cx="415.8" cy="87.6" r="1.45" fill="#1818ff"/><circle cx="416.3" cy="88.7" r="1.45" fill="#1818ff"/><circle cx="416.8" cy="88.1" r="1.45" fill="#1818ff"/><circle cx="417.3" cy="88.2" r="1.45" fill="#1818ff"/><circle cx="417.8" cy="88.6" r="1.45" fill="#1818ff"/><circle cx="418.3" cy="87.7" r="1.45" fill="#1818ff"/></g>
<polyline points="417.8,88.2 418.5,88.4 419.2,88.5 419.9,88.7 420.6,89.1 421.3,89.0 422.0,89.3 422.7,89.6 423.4,89.5 424.1,89.8 424.8,90.3 425.5,90.1 426.2,90.1 426.9,90.4 427.6,90.4 428.3,90.8 429.0,91.0 429.7,90.9 430.4,91.2 431.1,91.6 431.8,91.5 432.5,91.8 433.2,91.8 433.9,92.1 434.6,92.4 435.3,93.0 436.0,92.8 436.7,93.0 437.4,93.3 438.1,93.6 438.8,93.9 439.5,94.1 440.2,94.6 440.9,94.6 441.6,95.0 442.3,95.1 443.0,95.4 443.7,95.4 444.4,95.8 445.1,96.1 445.8,96.4 446.5,96.4 447.2,97.0 447.9,97.1 448.6,97.4 449.3,97.7 450.0,98.0 450.7,98.3 451.4,98.4 452.1,98.7 452.8,99.2 453.5,99.5 454.2,99.7 454.9,100.0 455.6,100.2 456.3,100.6 457.0,101.1 457.7,101.1 458.4,101.7 459.1,101.9 459.8,102.1 460.5,102.5 461.2,102.6 461.9,102.9 462.6,103.2 463.3,103.6 464.0,103.9 464.7,104.2 465.4,104.5 466.1,104.6 466.8,105.2 467.5,105.3 468.2,105.7 468.9,106.0 469.6,106.3 470.3,106.5 471.0,106.9 471.7,107.3 472.4,107.6 473.1,107.9 473.8,108.1 474.5,108.4 475.2,108.7 475.9,109.1 476.6,109.3 477.3,109.8 478.0,110.0 478.7,110.3 479.4,110.7 480.1,111.0 480.8,111.3 481.5,111.6 482.2,111.9 482.9,112.2 483.6,112.6 484.3,112.8 485.0,113.2 485.7,113.4 486.4,113.7 487.1,113.9 487.8,114.3 488.5,114.6 489.2,114.8 489.9,115.2 490.6,115.5 491.3,115.8 492.0,115.9 492.7,116.4 493.4,116.7 494.1,116.9 494.8,117.2 495.5,117.4 496.2,117.9 496.9,118.1 497.6,118.5 498.3,118.6 499.0,119.0 499.7,119.3 500.4,119.6 501.1,119.8 501.8,120.2 502.5,120.6 503.2,120.7 503.9,121.0 504.6,121.3 505.3,121.6 506.0,122.0 506.7,122.3 507.4,122.5 508.1,122.7 508.8,123.1 509.5,123.4 510.2,123.7 510.9,124.0 511.6,124.2 512.3,124.5 513.0,124.8 513.7,125.0 514.4,125.4 515.1,125.6 515.8,126.0 516.5,126.2 517.2,126.5 517.9,126.8 518.6,127.1 519.3,127.4 520.0,127.6 520.7,127.9 521.4,128.2 522.1,128.5 522.8,128.7 523.5,129.1 524.2,129.3 524.9,129.6 525.6,129.9 526.3,130.1" fill="none" stroke="#0000ff" stroke-width="3.8" stroke-linejoin="round"/>
<g fill="#f00"><rect x="304.49" y="75.21" width="2.9" height="2.9"/><rect x="319.43" y="75.84" width="2.9" height="2.9"/><rect x="327.36" y="77.81" width="2.9" height="2.9"/><rect x="333.95" y="74.57" width="2.9" height="2.9"/><rect x="338.28" y="76.68" width="2.9" height="2.9"/><rect x="342.40" y="78.08" width="2.9" height="2.9"/><rect x="349.61" y="76.58" width="2.9" height="2.9"/><rect x="351.83" y="77.01" width="2.9" height="2.9"/><rect x="353.95" y="76.85" width="2.9" height="2.9"/><rect x="355.97" y="78.10" width="2.9" height="2.9"/><rect x="357.90" y="77.64" width="2.9" height="2.9"/><rect x="359.76" y="75.28" width="2.9" height="2.9"/><rect x="361.54" y="77.43" width="2.9" height="2.9"/><rect x="363.25" y="77.98" width="2.9" height="2.9"/><rect x="364.89" y="77.61" width="2.9" height="2.9"/><rect x="366.48" y="78.20" width="2.9" height="2.9"/><rect x="368.02" y="76.84" width="2.9" height="2.9"/><rect x="369.50" y="76.58" width="2.9" height="2.9"/><rect x="370.93" y="78.27" width="2.9" height="2.9"/><rect x="372.32" y="76.69" width="2.9" height="2.9"/><rect x="373.67" y="75.92" width="2.9" height="2.9"/><rect x="374.98" y="78.52" width="2.9" height="2.9"/><rect x="376.25" y="77.25" width="2.9" height="2.9"/><rect x="377.49" y="77.65" width="2.9" height="2.9"/><rect x="378.69" y="76.95" width="2.9" height="2.9"/><rect x="379.86" y="77.10" width="2.9" height="2.9"/><rect x="381.00" y="77.32" width="2.9" height="2.9"/><rect x="382.11" y="77.95" width="2.9" height="2.9"/><rect x="383.20" y="78.52" width="2.9" height="2.9"/><rect x="384.26" y="76.88" width="2.9" height="2.9"/><rect x="385.29" y="78.92" width="2.9" height="2.9"/><rect x="386.30" y="77.80" width="2.9" height="2.9"/><rect x="387.29" y="77.97" width="2.9" height="2.9"/><rect x="388.26" y="79.10" width="2.9" height="2.9"/><rect x="389.20" y="78.74" width="2.9" height="2.9"/><rect x="390.13" y="78.00" width="2.9" height="2.9"/><rect x="391.04" y="80.00" width="2.9" height="2.9"/><rect x="391.93" y="78.58" width="2.9" height="2.9"/><rect x="392.80" y="79.28" width="2.9" height="2.9"/><rect x="393.66" y="79.35" width="2.9" height="2.9"/><rect x="394.50" y="80.08" width="2.9" height="2.9"/><rect x="395.32" y="79.20" width="2.9" height="2.9"/><rect x="396.13" y="80.04" width="2.9" height="2.9"/><rect x="396.92" y="79.26" width="2.9" height="2.9"/><rect x="397.70" y="80.28" width="2.9" height="2.9"/><rect x="398.47" y="79.45" width="2.9" height="2.9"/><rect x="399.23" y="79.75" width="2.9" height="2.9"/><rect x="399.97" y="80.91" width="2.9" height="2.9"/><rect x="400.70" y="80.27" width="2.9" height="2.9"/><rect x="401.41" y="80.28" width="2.9" height="2.9"/><rect x="402.12" y="81.34" width="2.9" height="2.9"/><rect x="402.82" y="80.60" width="2.9" height="2.9"/><rect x="403.50" y="80.19" width="2.9" height="2.9"/><rect x="404.17" y="80.97" width="2.9" height="2.9"/><rect x="404.84" y="80.26" width="2.9" height="2.9"/><rect x="405.49" y="81.36" width="2.9" height="2.9"/><rect x="406.14" y="81.52" width="2.9" height="2.9"/><rect x="406.77" y="80.92" width="2.9" height="2.9"/><rect x="407.40" y="81.04" width="2.9" height="2.9"/><rect x="408.02" y="81.51" width="2.9" height="2.9"/><rect x="408.63" y="81.59" width="2.9" height="2.9"/><rect x="409.23" y="81.36" width="2.9" height="2.9"/><rect x="409.82" y="82.11" width="2.9" height="2.9"/><rect x="410.41" y="81.27" width="2.9" height="2.9"/><rect x="410.99" y="82.05" width="2.9" height="2.9"/><rect x="411.56" y="82.22" width="2.9" height="2.9"/><rect x="412.12" y="82.44" width="2.9" height="2.9"/><rect x="412.68" y="82.81" width="2.9" height="2.9"/><rect x="413.22" y="82.43" width="2.9" height="2.9"/><rect x="413.77" y="83.25" width="2.9" height="2.9"/><rect x="414.30" y="83.14" width="2.9" height="2.9"/><rect x="414.83" y="83.15" width="2.9" height="2.9"/><rect x="415.36" y="83.08" width="2.9" height="2.9"/><rect x="415.87" y="83.32" width="2.9" height="2.9"/><rect x="416.39" y="84.01" width="2.9" height="2.9"/><rect x="416.89" y="83.74" width="2.9" height="2.9"/></g>
<polyline points="417.8,85.4 418.5,85.8 419.2,86.0 419.9,86.4 420.6,86.3 421.3,86.4 422.0,87.0 422.7,87.1 423.4,87.5 424.1,87.6 424.8,88.0 425.5,88.2 426.2,88.4 426.9,88.7 427.6,88.9 428.3,89.1 429.0,89.4 429.7,89.7 430.4,89.7 431.1,90.4 431.8,90.3 432.5,90.8 433.2,90.9 433.9,91.1 434.6,91.7 435.3,91.7 436.0,91.8 436.7,92.2 437.4,92.5 438.1,93.1 438.8,93.2 439.5,93.6 440.2,93.6 440.9,94.1 441.6,94.4 442.3,94.9 443.0,94.9 443.7,95.4 444.4,95.7 445.1,95.8 445.8,96.3 446.5,96.6 447.2,96.7 447.9,97.4 448.6,97.7 449.3,98.0 450.0,98.3 450.7,99.0 451.4,99.3 452.1,99.7 452.8,100.2 453.5,100.4 454.2,100.9 454.9,101.3 455.6,101.7 456.3,102.1 457.0,102.5 457.7,103.0 458.4,103.3 459.1,103.7 459.8,104.1 460.5,104.5 461.2,104.8 461.9,105.2 462.6,105.6 463.3,106.0 464.0,106.4 464.7,106.8 465.4,107.3 466.1,107.7 466.8,108.0 467.5,108.3 468.2,108.9 468.9,109.1 469.6,109.4 470.3,109.8 471.0,110.2 471.7,110.7 472.4,110.9 473.1,111.5 473.8,111.6 474.5,112.1 475.2,112.4 475.9,112.9 476.6,113.1 477.3,113.5 478.0,114.0 478.7,114.3 479.4,114.6 480.1,115.0 480.8,115.3 481.5,115.7 482.2,116.1 482.9,116.4 483.6,116.8 484.3,117.2 485.0,117.5 485.7,117.9 486.4,118.3 487.1,118.5 487.8,118.9 488.5,119.3 489.2,119.7 489.9,119.9 490.6,120.3 491.3,120.6 492.0,121.0 492.7,121.3 493.4,121.6 494.1,122.0 494.8,122.3 495.5,122.6 496.2,123.0 496.9,123.3 497.6,123.6 498.3,123.9 499.0,124.3 499.7,124.5 500.4,124.8 501.1,125.2 501.8,125.5 502.5,125.7 503.2,126.0 503.9,126.3 504.6,126.6 505.3,126.9 506.0,127.2 506.7,127.5 507.4,127.8 508.1,128.1 508.8,128.4 509.5,128.7 510.2,129.0 510.9,129.2 511.6,129.5 512.3,129.8 513.0,130.0 513.7,130.3 514.4,130.6 515.1,130.8 515.8,131.1 516.5,131.4 517.2,131.6 517.9,131.9 518.6,132.2 519.3,132.4 520.0,132.7 520.7,132.9 521.4,133.2 522.1,133.5 522.8,133.8 523.5,134.0 524.2,134.3 524.9,134.6 525.6,134.9 526.3,135.1" fill="none" stroke="#ff0000" stroke-width="3.8" stroke-linejoin="round"/>
<g fill="#fff" stroke="#999" stroke-width="0.42"><rect x="304.5" y="70.9" width="2.8" height="2.8"/><rect x="319.5" y="70.3" width="2.8" height="2.8"/><rect x="327.4" y="71.2" width="2.8" height="2.8"/><rect x="334.0" y="71.9" width="2.8" height="2.8"/><rect x="338.3" y="70.5" width="2.8" height="2.8"/><rect x="342.4" y="71.5" width="2.8" height="2.8"/><rect x="349.7" y="71.9" width="2.8" height="2.8"/><rect x="351.9" y="71.0" width="2.8" height="2.8"/><rect x="354.0" y="71.5" width="2.8" height="2.8"/><rect x="356.0" y="72.1" width="2.8" height="2.8"/><rect x="358.0" y="71.8" width="2.8" height="2.8"/><rect x="359.8" y="71.5" width="2.8" height="2.8"/><rect x="361.6" y="72.6" width="2.8" height="2.8"/><rect x="363.3" y="71.9" width="2.8" height="2.8"/><rect x="364.9" y="72.0" width="2.8" height="2.8"/><rect x="366.5" y="71.7" width="2.8" height="2.8"/><rect x="368.1" y="72.1" width="2.8" height="2.8"/><rect x="369.5" y="73.0" width="2.8" height="2.8"/><rect x="371.0" y="71.9" width="2.8" height="2.8" fill="#fafafa"/><rect x="372.4" y="72.8" width="2.8" height="2.8" fill="#f4f4f4"/><rect x="373.7" y="73.3" width="2.8" height="2.8" fill="#efefef"/><rect x="375.0" y="72.9" width="2.8" height="2.8" fill="#eaeaea"/><rect x="376.3" y="73.2" width="2.8" height="2.8" fill="#e5e5e5"/><rect x="377.5" y="72.7" width="2.8" height="2.8" fill="#e0e0e0"/><rect x="378.7" y="73.9" width="2.8" height="2.8" fill="#dbdbdb"/><rect x="379.9" y="73.9" width="2.8" height="2.8" fill="#d5d5d5"/><rect x="381.0" y="73.6" width="2.8" height="2.8" fill="#d0d0d0"/><rect x="382.2" y="72.8" width="2.8" height="2.8" fill="#cbcbcb"/><rect x="383.2" y="73.2" width="2.8" height="2.8" fill="#c6c6c6"/><rect x="384.3" y="74.2" width="2.8" height="2.8" fill="#c1c1c1"/><rect x="385.3" y="74.5" width="2.8" height="2.8" fill="#bbbbbb"/><rect x="386.4" y="74.1" width="2.8" height="2.8" fill="#b6b6b6"/><rect x="387.3" y="74.5" width="2.8" height="2.8" fill="#b1b1b1"/><rect x="388.3" y="73.9" width="2.8" height="2.8" fill="#acacac"/><rect x="389.3" y="74.2" width="2.8" height="2.8" fill="#a7a7a7"/><rect x="390.2" y="74.4" width="2.8" height="2.8" fill="#a1a1a1"/><rect x="391.1" y="74.6" width="2.8" height="2.8" fill="#9c9c9c"/><rect x="392.0" y="74.1" width="2.8" height="2.8" fill="#979797"/><rect x="392.9" y="75.0" width="2.8" height="2.8" fill="#929292"/><rect x="393.7" y="75.3" width="2.8" height="2.8" fill="#8d8d8d"/><rect x="394.5" y="74.6" width="2.8" height="2.8" fill="#888888"/><rect x="395.4" y="74.7" width="2.8" height="2.8" fill="#858585"/><rect x="396.2" y="75.4" width="2.8" height="2.8" fill="#858585"/><rect x="397.0" y="75.2" width="2.8" height="2.8" fill="#858585"/><rect x="397.8" y="74.9" width="2.8" height="2.8" fill="#858585"/><rect x="398.5" y="76.0" width="2.8" height="2.8" fill="#858585"/><rect x="399.3" y="75.9" width="2.8" height="2.8" fill="#858585"/><rect x="400.0" y="75.9" width="2.8" height="2.8" fill="#858585"/><rect x="400.7" y="76.8" width="2.8" height="2.8" fill="#858585"/><rect x="401.5" y="76.4" width="2.8" height="2.8" fill="#858585"/><rect x="402.2" y="76.3" width="2.8" height="2.8" fill="#858585"/><rect x="402.9" y="76.7" width="2.8" height="2.8" fill="#858585"/><rect x="403.5" y="76.5" width="2.8" height="2.8" fill="#858585"/><rect x="404.2" y="76.7" width="2.8" height="2.8" fill="#858585"/><rect x="404.9" y="77.2" width="2.8" height="2.8" fill="#858585"/><rect x="405.5" y="77.1" width="2.8" height="2.8" fill="#858585"/><rect x="406.2" y="77.3" width="2.8" height="2.8" fill="#858585"/><rect x="406.8" y="77.9" width="2.8" height="2.8" fill="#858585"/><rect x="407.4" y="77.9" width="2.8" height="2.8" fill="#858585"/><rect x="408.1" y="78.0" width="2.8" height="2.8" fill="#858585"/><rect x="408.7" y="78.1" width="2.8" height="2.8" fill="#858585"/><rect x="409.3" y="78.2" width="2.8" height="2.8" fill="#858585"/><rect x="409.9" y="78.6" width="2.8" height="2.8" fill="#858585"/><rect x="410.5" y="78.4" width="2.8" height="2.8" fill="#858585"/><rect x="411.0" y="79.0" width="2.8" height="2.8" fill="#858585"/><rect x="411.6" y="78.6" width="2.8" height="2.8" fill="#858585"/><rect x="412.2" y="78.9" width="2.8" height="2.8" fill="#858585"/><rect x="412.7" y="78.8" width="2.8" height="2.8" fill="#858585"/><rect x="413.3" y="79.2" width="2.8" height="2.8" fill="#858585"/><rect x="413.8" y="79.6" width="2.8" height="2.8" fill="#858585"/><rect x="414.4" y="80.0" width="2.8" height="2.8" fill="#858585"/><rect x="414.9" y="79.7" width="2.8" height="2.8" fill="#858585"/><rect x="415.4" y="80.0" width="2.8" height="2.8" fill="#858585"/><rect x="415.9" y="80.2" width="2.8" height="2.8" fill="#858585"/><rect x="416.4" y="80.3" width="2.8" height="2.8" fill="#858585"/><rect x="416.9" y="80.4" width="2.8" height="2.8" fill="#858585"/></g>
<polyline points="417.8,81.8 418.5,81.9 419.2,82.4 419.9,82.6 420.6,82.8 421.3,83.0 422.0,83.3 422.7,83.9 423.4,83.8 424.1,84.5 424.8,84.6 425.5,84.8 426.2,85.1 426.9,85.6 427.6,86.0 428.3,86.1 429.0,86.5 429.7,86.9 430.4,87.2 431.1,87.7 431.8,87.8 432.5,88.3 433.2,88.5 433.9,89.2 434.6,89.4 435.3,89.6 436.0,90.2 436.7,90.6 437.4,91.2 438.1,91.5 438.8,91.9 439.5,92.4 440.2,92.9 440.9,93.2 441.6,93.7 442.3,94.1 443.0,94.5 443.7,95.0 444.4,95.5 445.1,95.8 445.8,96.4 446.5,96.7 447.2,97.3 447.9,97.8 448.6,98.2 449.3,98.6 450.0,99.1 450.7,99.6 451.4,100.1 452.1,100.6 452.8,101.1 453.5,101.5 454.2,102.0 454.9,102.4 455.6,103.1 456.3,103.5 457.0,104.0 457.7,104.5 458.4,105.0 459.1,105.3 459.8,105.9 460.5,106.3 461.2,106.9 461.9,107.4 462.6,107.7 463.3,108.2 464.0,108.6 464.7,109.1 465.4,109.6 466.1,110.1 466.8,110.4 467.5,111.0 468.2,111.3 468.9,111.8 469.6,112.3 470.3,112.8 471.0,113.2 471.7,113.6 472.4,114.1 473.1,114.6 473.8,115.1 474.5,115.4 475.2,116.0 475.9,116.5 476.6,116.9 477.3,117.4 478.0,117.9 478.7,118.4 479.4,118.9 480.1,119.3 480.8,119.9 481.5,120.2 482.2,120.8 482.9,121.2 483.6,121.7 484.3,122.2 485.0,122.6 485.7,123.1 486.4,123.6 487.1,124.1 487.8,124.5 488.5,125.1 489.2,125.5 489.9,125.9 490.6,126.4 491.3,126.8 492.0,127.3 492.7,127.7 493.4,128.2 494.1,128.7 494.8,129.1 495.5,129.5 496.2,130.0 496.9,130.5 497.6,130.9 498.3,131.4 499.0,131.8 499.7,132.2 500.4,132.6 501.1,133.1 501.8,133.6 502.5,134.0 503.2,134.5 503.9,135.0 504.6,135.4 505.3,135.9 506.0,136.3 506.7,136.8 507.4,137.2 508.1,137.7 508.8,138.0 509.5,138.4 510.2,138.8 510.9,139.2 511.6,139.6 512.3,140.0 513.0,140.3 513.7,140.7 514.4,141.0 515.1,141.3 515.8,141.7 516.5,141.9 517.2,142.2 517.9,142.4 518.6,142.6 519.3,142.8 520.0,143.0 520.7,143.2 521.4,143.4 522.1,143.6 522.8,143.7 523.5,143.9 524.2,144.0 524.9,144.1 525.6,144.3 526.3,144.4" fill="none" stroke="#808080" stroke-width="3.3" stroke-linejoin="round"/>
<g fill="#000"><circle cx="305.9" cy="68.9" r="1.45"/><circle cx="320.9" cy="70.3" r="1.45"/><circle cx="328.8" cy="70.2" r="1.45"/><circle cx="335.4" cy="70.9" r="1.45"/><circle cx="339.7" cy="69.3" r="1.45"/><circle cx="343.8" cy="70.7" r="1.45"/><circle cx="351.1" cy="70.2" r="1.45"/><circle cx="353.3" cy="71.1" r="1.45"/><circle cx="355.4" cy="71.1" r="1.45"/><circle cx="357.4" cy="69.5" r="1.45"/><circle cx="359.4" cy="70.5" r="1.45"/><circle cx="361.2" cy="70.2" r="1.45"/><circle cx="363.0" cy="70.4" r="1.45"/><circle cx="364.7" cy="71.5" r="1.45"/><circle cx="366.3" cy="70.5" r="1.45"/><circle cx="367.9" cy="71.0" r="1.45"/><circle cx="369.5" cy="70.2" r="1.45"/><circle cx="370.9" cy="71.2" r="1.45"/><circle cx="372.4" cy="71.5" r="1.45"/><circle cx="373.8" cy="71.2" r="1.45"/><circle cx="375.1" cy="71.3" r="1.45"/><circle cx="376.4" cy="72.6" r="1.45"/><circle cx="377.7" cy="71.3" r="1.45"/><circle cx="378.9" cy="71.4" r="1.45"/><circle cx="380.1" cy="71.7" r="1.45"/><circle cx="381.3" cy="72.6" r="1.45"/><circle cx="382.4" cy="73.1" r="1.45"/><circle cx="383.6" cy="72.4" r="1.45"/><circle cx="384.6" cy="72.1" r="1.45"/><circle cx="385.7" cy="72.3" r="1.45"/><circle cx="386.7" cy="73.0" r="1.45"/><circle cx="387.8" cy="72.4" r="1.45"/><circle cx="388.7" cy="73.4" r="1.45"/><circle cx="389.7" cy="73.4" r="1.45"/><circle cx="390.7" cy="73.1" r="1.45"/><circle cx="391.6" cy="73.4" r="1.45"/><circle cx="392.5" cy="73.5" r="1.45"/><circle cx="393.4" cy="73.9" r="1.45"/><circle cx="394.3" cy="73.2" r="1.45"/><circle cx="395.1" cy="74.1" r="1.45"/><circle cx="395.9" cy="73.7" r="1.45"/><circle cx="396.8" cy="73.8" r="1.45"/><circle cx="397.6" cy="74.2" r="1.45"/><circle cx="398.4" cy="74.3" r="1.45"/><circle cx="399.2" cy="74.2" r="1.45"/><circle cx="399.9" cy="74.2" r="1.45"/><circle cx="400.7" cy="74.6" r="1.45"/><circle cx="401.4" cy="75.5" r="1.45"/><circle cx="402.1" cy="75.8" r="1.45"/><circle cx="402.9" cy="75.6" r="1.45"/><circle cx="403.6" cy="75.9" r="1.45"/><circle cx="404.3" cy="75.6" r="1.45"/><circle cx="404.9" cy="75.9" r="1.45"/><circle cx="405.6" cy="76.2" r="1.45"/><circle cx="406.3" cy="76.0" r="1.45"/><circle cx="406.9" cy="76.2" r="1.45"/><circle cx="407.6" cy="76.6" r="1.45"/><circle cx="408.2" cy="76.7" r="1.45"/><circle cx="408.8" cy="76.7" r="1.45"/><circle cx="409.5" cy="77.3" r="1.45"/><circle cx="410.1" cy="77.3" r="1.45"/><circle cx="410.7" cy="77.8" r="1.45"/><circle cx="411.3" cy="77.8" r="1.45"/><circle cx="411.9" cy="77.9" r="1.45"/><circle cx="412.4" cy="78.2" r="1.45"/><circle cx="413.0" cy="78.3" r="1.45"/><circle cx="413.6" cy="78.4" r="1.45"/><circle cx="414.1" cy="78.7" r="1.45"/><circle cx="414.7" cy="79.2" r="1.45"/><circle cx="415.2" cy="79.4" r="1.45"/><circle cx="415.8" cy="79.7" r="1.45"/><circle cx="416.3" cy="79.3" r="1.45"/><circle cx="416.8" cy="79.8" r="1.45"/><circle cx="417.3" cy="80.1" r="1.45"/><circle cx="417.8" cy="80.4" r="1.45"/><circle cx="418.3" cy="80.5" r="1.45"/></g>
<polyline points="417.8,80.3 418.5,80.8 419.2,81.0 419.9,81.2 420.6,81.8 421.3,82.1 422.0,82.2 422.7,82.7 423.4,82.9 424.1,83.4 424.8,83.6 425.5,83.9 426.2,84.2 426.9,84.6 427.6,85.0 428.3,85.4 429.0,85.7 429.7,86.0 430.4,86.1 431.1,86.9 431.8,87.1 432.5,87.7 433.2,88.1 433.9,88.5 434.6,88.8 435.3,89.3 436.0,89.7 436.7,90.1 437.4,90.6 438.1,91.0 438.8,91.6 439.5,92.0 440.2,92.5 440.9,92.9 441.6,93.3 442.3,93.8 443.0,94.3 443.7,94.8 444.4,95.2 445.1,95.6 445.8,96.1 446.5,96.7 447.2,97.0 447.9,97.5 448.6,98.1 449.3,98.6 450.0,99.0 450.7,99.4 451.4,100.1 452.1,100.5 452.8,101.0 453.5,101.4 454.2,101.8 454.9,102.3 455.6,102.9 456.3,103.4 457.0,103.9 457.7,104.3 458.4,104.8 459.1,105.4 459.8,105.8 460.5,106.4 461.2,106.9 461.9,107.5 462.6,107.9 463.3,108.3 464.0,108.7 464.7,109.1 465.4,109.7 466.1,110.2 466.8,110.7 467.5,111.2 468.2,111.7 468.9,112.2 469.6,112.7 470.3,113.2 471.0,113.6 471.7,114.1 472.4,114.6 473.1,115.2 473.8,115.7 474.5,116.2 475.2,116.6 475.9,117.2 476.6,117.7 477.3,118.3 478.0,118.8 478.7,119.4 479.4,119.9 480.1,120.5 480.8,121.0 481.5,121.6 482.2,122.1 482.9,122.7 483.6,123.3 484.3,123.9 485.0,124.5 485.7,125.1 486.4,125.7 487.1,126.4 487.8,126.9 488.5,127.6 489.2,128.3 489.9,128.9 490.6,129.6 491.3,130.3 492.0,131.0 492.7,131.7 493.4,132.4 494.1,133.1 494.8,133.8 495.5,134.5 496.2,135.2 496.9,135.9 497.6,136.6 498.3,137.4 499.0,138.0 499.7,138.7 500.4,139.4 501.1,140.1 501.8,140.8 502.5,141.5 503.2,142.2 503.9,142.9 504.6,143.7 505.3,144.3 506.0,145.0 506.7,145.7 507.4,146.3 508.1,147.1 508.8,147.8 509.5,148.5 510.2,149.1 510.9,149.8 511.6,150.5 512.3,151.2 513.0,151.9 513.7,152.5 514.4,153.2 515.1,153.9 515.8,154.5 516.5,155.2 517.2,155.8 517.9,156.5 518.6,157.2 519.3,157.9 520.0,158.4 520.7,158.7 521.4,159.0 522.1,159.2 522.8,159.2 523.5,159.1 524.2,158.9 524.9,158.6 525.6,158.1 526.3,157.5" fill="none" stroke="#000" stroke-width="2.6" stroke-linejoin="round"/>
</g>
<g clip-path="url(#c3)">
<g fill="#ff4500"><circle cx="66.2" cy="245.6" r="1.25"/><circle cx="80.7" cy="245.9" r="1.25"/><circle cx="88.4" cy="248.3" r="1.25"/><circle cx="94.8" cy="242.4" r="1.25"/><circle cx="99.0" cy="245.7" r="1.25"/><circle cx="103.0" cy="247.3" r="1.25"/><circle cx="110.0" cy="247.3" r="1.25"/><circle cx="112.2" cy="245.2" r="1.25"/><circle cx="114.2" cy="247.8" r="1.25"/><circle cx="116.2" cy="248.0" r="1.25"/><circle cx="118.1" cy="246.4" r="1.25"/><circle cx="119.9" cy="249.0" r="1.25"/><circle cx="121.6" cy="249.2" r="1.25"/><circle cx="123.2" cy="248.6" r="1.25"/><circle cx="124.8" cy="250.0" r="1.25"/><circle cx="126.4" cy="250.2" r="1.25"/><circle cx="127.9" cy="247.6" r="1.25"/><circle cx="129.3" cy="249.5" r="1.25"/><circle cx="130.7" cy="249.1" r="1.25"/><circle cx="132.0" cy="249.1" r="1.25"/><circle cx="133.4" cy="249.5" r="1.25"/><circle cx="134.6" cy="248.4" r="1.25"/><circle cx="135.9" cy="248.5" r="1.25"/><circle cx="137.1" cy="248.5" r="1.25"/><circle cx="138.2" cy="248.6" r="1.25"/><circle cx="139.4" cy="249.1" r="1.25"/><circle cx="140.5" cy="248.4" r="1.25"/><circle cx="141.5" cy="248.8" r="1.25"/><circle cx="142.6" cy="250.1" r="1.25"/><circle cx="143.6" cy="249.9" r="1.25"/><circle cx="144.6" cy="250.5" r="1.25"/><circle cx="145.6" cy="249.5" r="1.25"/><circle cx="146.6" cy="250.4" r="1.25"/><circle cx="147.5" cy="250.9" r="1.25"/><circle cx="148.4" cy="251.6" r="1.25"/><circle cx="149.3" cy="251.8" r="1.25"/><circle cx="150.2" cy="253.1" r="1.25"/><circle cx="151.1" cy="253.0" r="1.25"/><circle cx="151.9" cy="253.5" r="1.25"/><circle cx="152.8" cy="253.9" r="1.25"/><circle cx="153.6" cy="254.6" r="1.25"/><circle cx="154.4" cy="254.3" r="1.25"/><circle cx="155.2" cy="255.3" r="1.25"/><circle cx="155.9" cy="255.2" r="1.25"/><circle cx="156.7" cy="255.3" r="1.25"/><circle cx="157.4" cy="255.5" r="1.25"/><circle cx="158.2" cy="255.9" r="1.25"/><circle cx="158.9" cy="256.3" r="1.25"/><circle cx="159.6" cy="256.4" r="1.25"/><circle cx="160.3" cy="256.4" r="1.25"/><circle cx="161.0" cy="256.8" r="1.25"/><circle cx="161.6" cy="256.6" r="1.25"/><circle cx="162.3" cy="257.3" r="1.25"/><circle cx="163.0" cy="256.9" r="1.25"/><circle cx="163.6" cy="256.3" r="1.25"/><circle cx="164.2" cy="257.8" r="1.25"/><circle cx="164.9" cy="257.5" r="1.25"/><circle cx="165.5" cy="257.2" r="1.25"/><circle cx="166.1" cy="257.8" r="1.25"/><circle cx="166.7" cy="257.7" r="1.25"/><circle cx="167.3" cy="258.9" r="1.25"/><circle cx="167.9" cy="258.5" r="1.25"/><circle cx="168.4" cy="258.0" r="1.25"/><circle cx="169.0" cy="258.9" r="1.25"/><circle cx="169.6" cy="258.7" r="1.25"/><circle cx="170.1" cy="259.7" r="1.25"/><circle cx="170.7" cy="258.8" r="1.25"/><circle cx="171.2" cy="258.6" r="1.25"/><circle cx="171.8" cy="259.5" r="1.25"/><circle cx="172.3" cy="259.5" r="1.25"/><circle cx="172.8" cy="259.7" r="1.25"/><circle cx="173.3" cy="259.3" r="1.25"/><circle cx="173.8" cy="260.3" r="1.25"/><circle cx="174.3" cy="260.8" r="1.25"/><circle cx="174.8" cy="259.8" r="1.25"/><circle cx="175.3" cy="260.9" r="1.25"/></g>
<polyline points="174.8,260.3 175.5,261.1 176.2,260.9 176.9,261.0 177.6,261.5 178.3,261.6 179.0,261.6 179.7,262.1 180.4,262.1 181.1,262.1 181.8,262.9 182.5,262.8 183.2,262.9 183.9,263.3 184.6,263.2 185.3,263.5 186.0,263.9 186.7,264.1 187.4,264.4 188.1,264.8 188.8,264.8 189.5,265.1 190.2,265.4 190.9,265.4 191.6,265.8 192.3,265.9 193.0,266.4 193.7,266.6 194.4,266.7 195.1,266.8 195.8,267.3 196.5,267.4 197.2,267.8 197.9,268.0 198.6,268.2 199.3,268.7 200.0,268.9 200.7,269.0 201.4,269.5 202.1,269.7 202.8,269.9 203.5,270.3 204.2,270.5 204.9,270.8 205.6,271.1 206.3,271.6 207.0,271.9 207.7,272.0 208.4,272.5 209.1,272.6 209.8,273.0 210.5,273.3 211.2,273.5 211.9,274.0 212.6,274.1 213.3,274.3 214.0,274.8 214.7,274.9 215.4,275.2 216.1,275.3 216.8,275.9 217.5,276.2 218.2,276.5 218.9,276.8 219.6,277.1 220.3,277.3 221.0,277.6 221.7,277.8 222.4,278.1 223.1,278.5 223.8,278.8 224.5,278.9 225.2,279.3 225.9,279.6 226.6,279.8 227.3,280.2 228.0,280.4 228.7,280.6 229.4,280.9 230.1,281.3 230.8,281.4 231.5,281.8 232.2,282.1 232.9,282.3 233.6,282.5 234.3,282.8 235.0,283.1 235.7,283.4 236.4,283.6 237.1,283.8 237.8,284.2 238.5,284.4 239.2,284.7 239.9,284.9 240.6,285.2 241.3,285.4 242.0,285.7 242.7,285.8 243.4,286.1 244.1,286.4 244.8,286.6 245.5,286.9 246.2,287.1 246.9,287.4 247.6,287.6 248.3,287.8 249.0,288.1 249.7,288.4 250.4,288.6 251.1,288.9 251.8,289.0 252.5,289.3 253.2,289.6 253.9,289.8 254.6,290.1 255.3,290.3 256.0,290.5 256.7,290.8 257.4,291.0 258.1,291.2 258.8,291.6 259.5,291.7 260.2,292.0 260.9,292.2 261.6,292.5 262.3,292.7 263.0,293.0 263.7,293.2 264.4,293.4 265.1,293.7 265.8,294.0 266.5,294.2 267.2,294.4 267.9,294.6 268.6,294.9 269.3,295.2 270.0,295.4 270.7,295.6 271.4,295.9 272.1,296.2 272.8,296.4 273.5,296.6 274.2,296.8 274.9,297.1 275.6,297.4 276.3,297.6 277.0,297.9 277.7,298.2 278.4,298.4 279.1,298.7 279.8,298.9 280.5,299.2" fill="none" stroke="#ff4500" stroke-width="3.3" stroke-linejoin="round"/>
<g fill="none" stroke="#33f" stroke-width="0.5"><circle cx="66.2" cy="233.8" r="1.45"/><circle cx="80.7" cy="224.5" r="1.45"/><circle cx="88.4" cy="229.3" r="1.45"/><circle cx="94.8" cy="230.8" r="1.45"/><circle cx="99.0" cy="229.4" r="1.45"/><circle cx="103.0" cy="228.0" r="1.45"/><circle cx="110.0" cy="230.7" r="1.45"/><circle cx="112.2" cy="223.9" r="1.45"/><circle cx="114.2" cy="232.1" r="1.45"/><circle cx="116.2" cy="230.8" r="1.45"/><circle cx="118.1" cy="233.5" r="1.45"/><circle cx="119.9" cy="232.3" r="1.45"/><circle cx="121.6" cy="233.1" r="1.45"/><circle cx="123.2" cy="233.5" r="1.45"/><circle cx="124.8" cy="233.6" r="1.45"/><circle cx="126.4" cy="231.0" r="1.45"/><circle cx="127.9" cy="236.8" r="1.45"/><circle cx="129.3" cy="236.8" r="1.45"/><circle cx="130.7" cy="238.9" r="1.45"/><circle cx="132.0" cy="236.7" r="1.45"/><circle cx="133.4" cy="237.7" r="1.45"/><circle cx="134.6" cy="237.0" r="1.45"/><circle cx="135.9" cy="238.2" r="1.45"/><circle cx="137.1" cy="239.5" r="1.45"/><circle cx="138.2" cy="239.3" r="1.45"/><circle cx="139.4" cy="238.7" r="1.45" fill="#ededff"/><circle cx="140.5" cy="239.0" r="1.45" fill="#dadaff"/><circle cx="141.5" cy="239.9" r="1.45" fill="#c6c6ff"/><circle cx="142.6" cy="239.9" r="1.45" fill="#b2b2ff"/><circle cx="143.6" cy="240.3" r="1.45" fill="#9f9fff"/><circle cx="144.6" cy="241.9" r="1.45" fill="#8b8bff"/><circle cx="145.6" cy="241.3" r="1.45" fill="#7777ff"/><circle cx="146.6" cy="242.1" r="1.45" fill="#6464ff"/><circle cx="147.5" cy="243.5" r="1.45" fill="#5050ff"/><circle cx="148.4" cy="242.4" r="1.45" fill="#3c3cff"/><circle cx="149.3" cy="250.6" r="1.45" fill="#2929ff"/><circle cx="150.2" cy="243.7" r="1.45" fill="#1818ff"/><circle cx="151.1" cy="244.9" r="1.45" fill="#1818ff"/><circle cx="151.9" cy="245.2" r="1.45" fill="#1818ff"/><circle cx="152.8" cy="245.8" r="1.45" fill="#1818ff"/><circle cx="153.6" cy="247.4" r="1.45" fill="#1818ff"/><circle cx="154.4" cy="247.1" r="1.45" fill="#1818ff"/><circle cx="155.2" cy="246.5" r="1.45" fill="#1818ff"/><circle cx="155.9" cy="247.7" r="1.45" fill="#1818ff"/><circle cx="156.7" cy="248.7" r="1.45" fill="#1818ff"/><circle cx="157.4" cy="249.1" r="1.45" fill="#1818ff"/><circle cx="158.2" cy="248.9" r="1.45" fill="#1818ff"/><circle cx="158.9" cy="249.6" r="1.45" fill="#1818ff"/><circle cx="159.6" cy="250.0" r="1.45" fill="#1818ff"/><circle cx="160.3" cy="250.2" r="1.45" fill="#1818ff"/><circle cx="161.0" cy="251.4" r="1.45" fill="#1818ff"/><circle cx="161.6" cy="251.6" r="1.45" fill="#1818ff"/><circle cx="162.3" cy="252.3" r="1.45" fill="#1818ff"/><circle cx="163.0" cy="252.9" r="1.45" fill="#1818ff"/><circle cx="163.6" cy="253.1" r="1.45" fill="#1818ff"/><circle cx="164.2" cy="254.6" r="1.45" fill="#1818ff"/><circle cx="164.9" cy="253.9" r="1.45" fill="#1818ff"/><circle cx="165.5" cy="254.8" r="1.45" fill="#1818ff"/><circle cx="166.1" cy="255.0" r="1.45" fill="#1818ff"/><circle cx="166.7" cy="255.5" r="1.45" fill="#1818ff"/><circle cx="167.3" cy="256.5" r="1.45" fill="#1818ff"/><circle cx="167.9" cy="255.7" r="1.45" fill="#1818ff"/><circle cx="168.4" cy="256.9" r="1.45" fill="#1818ff"/><circle cx="169.0" cy="256.4" r="1.45" fill="#1818ff"/><circle cx="169.6" cy="257.5" r="1.45" fill="#1818ff"/><circle cx="170.1" cy="257.0" r="1.45" fill="#1818ff"/><circle cx="170.7" cy="257.8" r="1.45" fill="#1818ff"/><circle cx="171.2" cy="257.9" r="1.45" fill="#1818ff"/><circle cx="171.8" cy="258.3" r="1.45" fill="#1818ff"/><circle cx="172.3" cy="259.2" r="1.45" fill="#1818ff"/><circle cx="172.8" cy="259.6" r="1.45" fill="#1818ff"/><circle cx="173.3" cy="259.4" r="1.45" fill="#1818ff"/><circle cx="173.8" cy="259.4" r="1.45" fill="#1818ff"/><circle cx="174.3" cy="260.3" r="1.45" fill="#1818ff"/><circle cx="174.8" cy="259.8" r="1.45" fill="#1818ff"/><circle cx="175.3" cy="259.9" r="1.45" fill="#1818ff"/></g>
<polyline points="174.8,260.2 175.5,260.8 176.2,261.0 176.9,261.2 177.6,261.8 178.3,261.9 179.0,262.4 179.7,262.6 180.4,263.7 181.1,263.6 181.8,263.6 182.5,263.9 183.2,264.3 183.9,264.4 184.6,264.9 185.3,265.2 186.0,265.8 186.7,265.8 187.4,266.0 188.1,266.2 188.8,266.5 189.5,267.0 190.2,267.3 190.9,267.8 191.6,267.8 192.3,268.3 193.0,268.5 193.7,268.7 194.4,268.7 195.1,269.1 195.8,269.7 196.5,270.1 197.2,270.2 197.9,270.6 198.6,270.7 199.3,271.0 200.0,271.3 200.7,271.9 201.4,272.1 202.1,272.3 202.8,272.6 203.5,273.1 204.2,273.4 204.9,273.5 205.6,274.2 206.3,274.3 207.0,274.6 207.7,275.1 208.4,275.4 209.1,275.5 209.8,275.9 210.5,276.0 211.2,276.4 211.9,276.5 212.6,277.2 213.3,277.2 214.0,277.8 214.7,277.9 215.4,278.2 216.1,278.6 216.8,278.9 217.5,279.3 218.2,279.7 218.9,279.9 219.6,280.2 220.3,280.4 221.0,280.8 221.7,281.0 222.4,281.3 223.1,281.6 223.8,281.9 224.5,282.2 225.2,282.5 225.9,282.7 226.6,283.0 227.3,283.4 228.0,283.5 228.7,283.8 229.4,284.3 230.1,284.2 230.8,284.7 231.5,285.0 232.2,285.1 232.9,285.7 233.6,285.6 234.3,286.2 235.0,286.4 235.7,286.7 236.4,286.8 237.1,287.1 237.8,287.3 238.5,287.7 239.2,287.8 239.9,288.1 240.6,288.5 241.3,288.6 242.0,288.9 242.7,289.2 243.4,289.3 244.1,289.7 244.8,289.9 245.5,290.1 246.2,290.4 246.9,290.6 247.6,290.9 248.3,291.2 249.0,291.4 249.7,291.7 250.4,291.9 251.1,292.2 251.8,292.4 252.5,292.7 253.2,292.9 253.9,293.1 254.6,293.3 255.3,293.7 256.0,293.9 256.7,294.2 257.4,294.4 258.1,294.6 258.8,294.8 259.5,295.1 260.2,295.3 260.9,295.6 261.6,295.9 262.3,296.0 263.0,296.3 263.7,296.6 264.4,296.8 265.1,297.0 265.8,297.3 266.5,297.5 267.2,297.8 267.9,298.0 268.6,298.2 269.3,298.5 270.0,298.7 270.7,299.0 271.4,299.2 272.1,299.5 272.8,299.8 273.5,300.0 274.2,300.2 274.9,300.5 275.6,300.7 276.3,301.0 277.0,301.3 277.7,301.5 278.4,301.9 279.1,302.1 279.8,302.3 280.5,302.6" fill="none" stroke="#0000ff" stroke-width="3.8" stroke-linejoin="round"/>
<g fill="#f00"><rect x="64.75" y="208.95" width="2.9" height="2.9"/><rect x="79.25" y="209.55" width="2.9" height="2.9"/><rect x="86.95" y="214.85" width="2.9" height="2.9"/><rect x="93.35" y="211.05" width="2.9" height="2.9"/><rect x="97.55" y="214.07" width="2.9" height="2.9"/><rect x="101.55" y="217.05" width="2.9" height="2.9"/><rect x="108.55" y="219.55" width="2.9" height="2.9"/><rect x="110.71" y="220.04" width="2.9" height="2.9"/><rect x="112.76" y="222.53" width="2.9" height="2.9"/><rect x="114.73" y="223.82" width="2.9" height="2.9"/><rect x="116.60" y="222.51" width="2.9" height="2.9"/><rect x="118.40" y="225.99" width="2.9" height="2.9"/><rect x="120.13" y="226.53" width="2.9" height="2.9"/><rect x="121.79" y="227.98" width="2.9" height="2.9"/><rect x="123.39" y="228.54" width="2.9" height="2.9"/><rect x="124.93" y="228.07" width="2.9" height="2.9"/><rect x="126.42" y="229.14" width="2.9" height="2.9"/><rect x="127.86" y="232.53" width="2.9" height="2.9"/><rect x="129.25" y="232.19" width="2.9" height="2.9"/><rect x="130.60" y="231.83" width="2.9" height="2.9"/><rect x="131.91" y="234.05" width="2.9" height="2.9"/><rect x="133.18" y="234.40" width="2.9" height="2.9"/><rect x="134.41" y="234.22" width="2.9" height="2.9"/><rect x="135.61" y="234.78" width="2.9" height="2.9"/><rect x="136.78" y="236.09" width="2.9" height="2.9"/><rect x="137.91" y="238.13" width="2.9" height="2.9"/><rect x="139.02" y="238.71" width="2.9" height="2.9"/><rect x="140.10" y="239.36" width="2.9" height="2.9"/><rect x="141.15" y="240.45" width="2.9" height="2.9"/><rect x="142.18" y="241.39" width="2.9" height="2.9"/><rect x="143.19" y="240.55" width="2.9" height="2.9"/><rect x="144.17" y="242.34" width="2.9" height="2.9"/><rect x="145.13" y="242.77" width="2.9" height="2.9"/><rect x="146.07" y="243.26" width="2.9" height="2.9"/><rect x="146.98" y="244.34" width="2.9" height="2.9"/><rect x="147.88" y="245.25" width="2.9" height="2.9"/><rect x="148.77" y="245.85" width="2.9" height="2.9"/><rect x="149.63" y="245.91" width="2.9" height="2.9"/><rect x="150.48" y="247.05" width="2.9" height="2.9"/><rect x="151.31" y="248.92" width="2.9" height="2.9"/><rect x="152.12" y="248.04" width="2.9" height="2.9"/><rect x="152.92" y="248.35" width="2.9" height="2.9"/><rect x="153.71" y="249.88" width="2.9" height="2.9"/><rect x="154.48" y="250.62" width="2.9" height="2.9"/><rect x="155.24" y="251.12" width="2.9" height="2.9"/><rect x="155.98" y="250.97" width="2.9" height="2.9"/><rect x="156.71" y="252.46" width="2.9" height="2.9"/><rect x="157.43" y="252.22" width="2.9" height="2.9"/><rect x="158.14" y="252.60" width="2.9" height="2.9"/><rect x="158.84" y="253.35" width="2.9" height="2.9"/><rect x="159.52" y="254.07" width="2.9" height="2.9"/><rect x="160.20" y="254.91" width="2.9" height="2.9"/><rect x="160.86" y="255.36" width="2.9" height="2.9"/><rect x="161.52" y="255.58" width="2.9" height="2.9"/><rect x="162.16" y="256.44" width="2.9" height="2.9"/><rect x="162.80" y="256.57" width="2.9" height="2.9"/><rect x="163.42" y="257.35" width="2.9" height="2.9"/><rect x="164.04" y="256.94" width="2.9" height="2.9"/><rect x="164.65" y="257.34" width="2.9" height="2.9"/><rect x="165.25" y="258.67" width="2.9" height="2.9"/><rect x="165.84" y="258.33" width="2.9" height="2.9"/><rect x="166.42" y="259.18" width="2.9" height="2.9"/><rect x="167.00" y="259.71" width="2.9" height="2.9"/><rect x="167.57" y="260.02" width="2.9" height="2.9"/><rect x="168.13" y="260.48" width="2.9" height="2.9"/><rect x="168.68" y="261.56" width="2.9" height="2.9"/><rect x="169.23" y="260.66" width="2.9" height="2.9"/><rect x="169.77" y="262.25" width="2.9" height="2.9"/><rect x="170.30" y="263.14" width="2.9" height="2.9"/><rect x="170.83" y="262.80" width="2.9" height="2.9"/><rect x="171.35" y="263.20" width="2.9" height="2.9"/><rect x="171.86" y="263.85" width="2.9" height="2.9"/><rect x="172.37" y="264.60" width="2.9" height="2.9"/><rect x="172.87" y="264.04" width="2.9" height="2.9"/><rect x="173.37" y="264.82" width="2.9" height="2.9"/><rect x="173.86" y="265.11" width="2.9" height="2.9"/></g>
<polyline points="174.8,266.3 175.5,266.8 176.2,267.4 176.9,267.7 177.6,268.3 178.3,268.7 179.0,269.2 179.7,269.7 180.4,270.2 181.1,270.5 181.8,271.3 182.5,271.5 183.2,271.7 183.9,272.4 184.6,272.5 185.3,273.1 186.0,273.4 186.7,273.8 187.4,274.2 188.1,274.4 188.8,274.9 189.5,275.5 190.2,275.2 190.9,275.9 191.6,276.3 192.3,276.4 193.0,276.7 193.7,277.4 194.4,277.4 195.1,278.0 195.8,278.1 196.5,278.4 197.2,278.7 197.9,279.0 198.6,279.4 199.3,279.6 200.0,279.8 200.7,280.1 201.4,280.5 202.1,280.7 202.8,280.8 203.5,281.1 204.2,281.4 204.9,281.6 205.6,281.8 206.3,282.0 207.0,282.3 207.7,282.7 208.4,282.9 209.1,283.1 209.8,283.5 210.5,283.6 211.2,284.1 211.9,284.1 212.6,284.3 213.3,284.5 214.0,284.5 214.7,284.9 215.4,285.2 216.1,285.5 216.8,285.5 217.5,286.0 218.2,286.0 218.9,286.3 219.6,286.3 220.3,286.7 221.0,286.8 221.7,287.1 222.4,287.3 223.1,287.4 223.8,287.8 224.5,288.0 225.2,288.2 225.9,288.4 226.6,288.6 227.3,288.8 228.0,288.9 228.7,289.1 229.4,289.5 230.1,289.7 230.8,289.9 231.5,290.1 232.2,290.3 232.9,290.5 233.6,290.8 234.3,291.0 235.0,291.4 235.7,291.5 236.4,291.7 237.1,291.9 237.8,292.1 238.5,292.4 239.2,292.7 239.9,292.9 240.6,293.1 241.3,293.3 242.0,293.5 242.7,293.9 243.4,294.1 244.1,294.4 244.8,294.5 245.5,294.8 246.2,295.1 246.9,295.2 247.6,295.4 248.3,295.7 249.0,296.0 249.7,296.2 250.4,296.5 251.1,296.8 251.8,297.0 252.5,297.2 253.2,297.4 253.9,297.7 254.6,298.0 255.3,298.2 256.0,298.4 256.7,298.7 257.4,298.9 258.1,299.1 258.8,299.4 259.5,299.7 260.2,299.9 260.9,300.2 261.6,300.4 262.3,300.7 263.0,301.0 263.7,301.2 264.4,301.4 265.1,301.7 265.8,301.9 266.5,302.2 267.2,302.4 267.9,302.7 268.6,302.9 269.3,303.2 270.0,303.4 270.7,303.7 271.4,303.9 272.1,304.2 272.8,304.5 273.5,304.7 274.2,305.0 274.9,305.2 275.6,305.5 276.3,305.7 277.0,306.0 277.7,306.2 278.4,306.5 279.1,306.8 279.8,307.0 280.5,307.3" fill="none" stroke="#ff0000" stroke-width="3.8" stroke-linejoin="round"/>
<g fill="#fff" stroke="#999" stroke-width="0.42"><rect x="64.8" y="204.1" width="2.8" height="2.8"/><rect x="79.3" y="206.8" width="2.8" height="2.8"/><rect x="87.0" y="209.2" width="2.8" height="2.8"/><rect x="93.4" y="211.2" width="2.8" height="2.8"/><rect x="97.6" y="212.6" width="2.8" height="2.8"/><rect x="101.6" y="214.2" width="2.8" height="2.8"/><rect x="108.6" y="215.4" width="2.8" height="2.8"/><rect x="110.8" y="220.2" width="2.8" height="2.8"/><rect x="112.8" y="221.6" width="2.8" height="2.8"/><rect x="114.8" y="222.4" width="2.8" height="2.8"/><rect x="116.7" y="223.6" width="2.8" height="2.8"/><rect x="118.5" y="225.1" width="2.8" height="2.8"/><rect x="120.2" y="226.4" width="2.8" height="2.8"/><rect x="121.8" y="226.6" width="2.8" height="2.8"/><rect x="123.4" y="228.2" width="2.8" height="2.8"/><rect x="125.0" y="230.3" width="2.8" height="2.8"/><rect x="126.5" y="230.0" width="2.8" height="2.8"/><rect x="127.9" y="230.9" width="2.8" height="2.8"/><rect x="129.3" y="231.6" width="2.8" height="2.8" fill="#fafafa"/><rect x="130.6" y="232.2" width="2.8" height="2.8" fill="#f4f4f4"/><rect x="132.0" y="234.3" width="2.8" height="2.8" fill="#efefef"/><rect x="133.2" y="234.7" width="2.8" height="2.8" fill="#eaeaea"/><rect x="134.5" y="235.7" width="2.8" height="2.8" fill="#e5e5e5"/><rect x="135.7" y="237.2" width="2.8" height="2.8" fill="#e0e0e0"/><rect x="136.8" y="238.3" width="2.8" height="2.8" fill="#dbdbdb"/><rect x="138.0" y="237.9" width="2.8" height="2.8" fill="#d5d5d5"/><rect x="139.1" y="239.4" width="2.8" height="2.8" fill="#d0d0d0"/><rect x="140.1" y="240.1" width="2.8" height="2.8" fill="#cbcbcb"/><rect x="141.2" y="240.9" width="2.8" height="2.8" fill="#c6c6c6"/><rect x="142.2" y="241.8" width="2.8" height="2.8" fill="#c1c1c1"/><rect x="143.2" y="242.4" width="2.8" height="2.8" fill="#bbbbbb"/><rect x="144.2" y="243.8" width="2.8" height="2.8" fill="#b6b6b6"/><rect x="145.2" y="244.3" width="2.8" height="2.8" fill="#b1b1b1"/><rect x="146.1" y="245.0" width="2.8" height="2.8" fill="#acacac"/><rect x="147.0" y="246.1" width="2.8" height="2.8" fill="#a7a7a7"/><rect x="147.9" y="246.7" width="2.8" height="2.8" fill="#a1a1a1"/><rect x="148.8" y="247.4" width="2.8" height="2.8" fill="#9c9c9c"/><rect x="149.7" y="248.1" width="2.8" height="2.8" fill="#979797"/><rect x="150.5" y="249.3" width="2.8" height="2.8" fill="#929292"/><rect x="151.4" y="249.6" width="2.8" height="2.8" fill="#8d8d8d"/><rect x="152.2" y="250.2" width="2.8" height="2.8" fill="#888888"/><rect x="153.0" y="250.7" width="2.8" height="2.8" fill="#858585"/><rect x="153.8" y="251.6" width="2.8" height="2.8" fill="#858585"/><rect x="154.5" y="252.1" width="2.8" height="2.8" fill="#858585"/><rect x="155.3" y="253.1" width="2.8" height="2.8" fill="#858585"/><rect x="156.0" y="253.8" width="2.8" height="2.8" fill="#858585"/><rect x="156.8" y="253.9" width="2.8" height="2.8" fill="#858585"/><rect x="157.5" y="255.1" width="2.8" height="2.8" fill="#858585"/><rect x="158.2" y="255.9" width="2.8" height="2.8" fill="#858585"/><rect x="158.9" y="256.5" width="2.8" height="2.8" fill="#858585"/><rect x="159.6" y="256.9" width="2.8" height="2.8" fill="#858585"/><rect x="160.2" y="258.1" width="2.8" height="2.8" fill="#858585"/><rect x="160.9" y="258.2" width="2.8" height="2.8" fill="#858585"/><rect x="161.6" y="258.8" width="2.8" height="2.8" fill="#858585"/><rect x="162.2" y="259.4" width="2.8" height="2.8" fill="#858585"/><rect x="162.8" y="260.3" width="2.8" height="2.8" fill="#858585"/><rect x="163.5" y="261.1" width="2.8" height="2.8" fill="#858585"/><rect x="164.1" y="261.8" width="2.8" height="2.8" fill="#858585"/><rect x="164.7" y="262.1" width="2.8" height="2.8" fill="#858585"/><rect x="165.3" y="262.4" width="2.8" height="2.8" fill="#858585"/><rect x="165.9" y="263.0" width="2.8" height="2.8" fill="#858585"/><rect x="166.5" y="263.5" width="2.8" height="2.8" fill="#858585"/><rect x="167.0" y="264.2" width="2.8" height="2.8" fill="#858585"/><rect x="167.6" y="264.4" width="2.8" height="2.8" fill="#858585"/><rect x="168.2" y="265.3" width="2.8" height="2.8" fill="#858585"/><rect x="168.7" y="265.9" width="2.8" height="2.8" fill="#858585"/><rect x="169.3" y="266.3" width="2.8" height="2.8" fill="#858585"/><rect x="169.8" y="266.9" width="2.8" height="2.8" fill="#858585"/><rect x="170.4" y="267.1" width="2.8" height="2.8" fill="#858585"/><rect x="170.9" y="267.5" width="2.8" height="2.8" fill="#858585"/><rect x="171.4" y="268.1" width="2.8" height="2.8" fill="#858585"/><rect x="171.9" y="268.9" width="2.8" height="2.8" fill="#858585"/><rect x="172.4" y="269.3" width="2.8" height="2.8" fill="#858585"/><rect x="172.9" y="269.5" width="2.8" height="2.8" fill="#858585"/><rect x="173.4" y="270.2" width="2.8" height="2.8" fill="#858585"/><rect x="173.9" y="270.4" width="2.8" height="2.8" fill="#858585"/></g>
<polyline points="174.8,271.6 175.5,272.0 176.2,272.5 176.9,273.3 177.6,273.7 178.3,274.2 179.0,274.8 179.7,275.5 180.4,276.0 181.1,276.5 181.8,277.0 182.5,277.7 183.2,278.1 183.9,278.6 184.6,279.3 185.3,279.8 186.0,280.2 186.7,280.5 187.4,281.1 188.1,281.7 188.8,282.1 189.5,282.7 190.2,283.0 190.9,283.6 191.6,283.9 192.3,284.5 193.0,284.8 193.7,285.3 194.4,285.6 195.1,285.9 195.8,286.3 196.5,286.6 197.2,286.9 197.9,287.4 198.6,287.7 199.3,287.9 200.0,288.1 200.7,288.4 201.4,288.7 202.1,289.1 202.8,289.3 203.5,289.5 204.2,289.7 204.9,289.8 205.6,290.2 206.3,290.4 207.0,290.7 207.7,290.9 208.4,291.0 209.1,291.3 209.8,291.6 210.5,291.7 211.2,291.9 211.9,292.1 212.6,292.3 213.3,292.5 214.0,292.8 214.7,293.0 215.4,293.1 216.1,293.3 216.8,293.5 217.5,293.7 218.2,293.9 218.9,294.1 219.6,294.3 220.3,294.4 221.0,294.6 221.7,294.8 222.4,294.9 223.1,295.1 223.8,295.3 224.5,295.4 225.2,295.6 225.9,295.8 226.6,295.9 227.3,296.1 228.0,296.3 228.7,296.5 229.4,296.7 230.1,296.9 230.8,297.1 231.5,297.4 232.2,297.5 232.9,297.8 233.6,298.0 234.3,298.2 235.0,298.4 235.7,298.6 236.4,298.8 237.1,299.1 237.8,299.2 238.5,299.5 239.2,299.7 239.9,299.9 240.6,300.1 241.3,300.3 242.0,300.6 242.7,300.8 243.4,301.0 244.1,301.3 244.8,301.5 245.5,301.7 246.2,301.9 246.9,302.2 247.6,302.4 248.3,302.7 249.0,302.9 249.7,303.1 250.4,303.3 251.1,303.5 251.8,303.8 252.5,304.0 253.2,304.3 253.9,304.5 254.6,304.7 255.3,305.0 256.0,305.3 256.7,305.5 257.4,305.7 258.1,305.9 258.8,306.2 259.5,306.4 260.2,306.7 260.9,306.9 261.6,307.1 262.3,307.4 263.0,307.6 263.7,307.8 264.4,308.1 265.1,308.3 265.8,308.6 266.5,308.8 267.2,309.0 267.9,309.2 268.6,309.5 269.3,309.7 270.0,310.0 270.7,310.2 271.4,310.4 272.1,310.6 272.8,310.9 273.5,311.1 274.2,311.4 274.9,311.6 275.6,311.8 276.3,312.0 277.0,312.3 277.7,312.5 278.4,312.7 279.1,312.9 279.8,313.1 280.5,313.4" fill="none" stroke="#808080" stroke-width="3.3" stroke-linejoin="round"/>
<g fill="#000"><circle cx="66.2" cy="203.4" r="1.45"/><circle cx="80.7" cy="206.9" r="1.45"/><circle cx="88.4" cy="208.8" r="1.45"/><circle cx="94.8" cy="213.4" r="1.45"/><circle cx="99.0" cy="213.3" r="1.45"/><circle cx="103.0" cy="214.8" r="1.45"/><circle cx="110.0" cy="219.4" r="1.45"/><circle cx="112.2" cy="220.9" r="1.45"/><circle cx="114.2" cy="221.7" r="1.45"/><circle cx="116.2" cy="223.7" r="1.45"/><circle cx="118.1" cy="224.2" r="1.45"/><circle cx="119.9" cy="225.7" r="1.45"/><circle cx="121.6" cy="226.7" r="1.45"/><circle cx="123.2" cy="228.2" r="1.45"/><circle cx="124.8" cy="230.1" r="1.45"/><circle cx="126.4" cy="230.3" r="1.45"/><circle cx="127.9" cy="231.2" r="1.45"/><circle cx="129.3" cy="231.8" r="1.45"/><circle cx="130.7" cy="232.7" r="1.45"/><circle cx="132.0" cy="234.6" r="1.45"/><circle cx="133.4" cy="234.4" r="1.45"/><circle cx="134.6" cy="235.4" r="1.45"/><circle cx="135.9" cy="236.7" r="1.45"/><circle cx="137.1" cy="237.4" r="1.45"/><circle cx="138.2" cy="239.3" r="1.45"/><circle cx="139.4" cy="238.5" r="1.45"/><circle cx="140.5" cy="240.4" r="1.45"/><circle cx="141.5" cy="241.5" r="1.45"/><circle cx="142.6" cy="241.7" r="1.45"/><circle cx="143.6" cy="242.8" r="1.45"/><circle cx="144.6" cy="244.1" r="1.45"/><circle cx="145.6" cy="245.4" r="1.45"/><circle cx="146.6" cy="245.4" r="1.45"/><circle cx="147.5" cy="246.1" r="1.45"/><circle cx="148.4" cy="247.7" r="1.45"/><circle cx="149.3" cy="248.7" r="1.45"/><circle cx="150.2" cy="249.0" r="1.45"/><circle cx="151.1" cy="249.3" r="1.45"/><circle cx="151.9" cy="251.2" r="1.45"/><circle cx="152.8" cy="251.5" r="1.45"/><circle cx="153.6" cy="252.7" r="1.45"/><circle cx="154.4" cy="253.1" r="1.45"/><circle cx="155.2" cy="253.8" r="1.45"/><circle cx="155.9" cy="254.6" r="1.45"/><circle cx="156.7" cy="255.8" r="1.45"/><circle cx="157.4" cy="256.5" r="1.45"/><circle cx="158.2" cy="256.3" r="1.45"/><circle cx="158.9" cy="257.3" r="1.45"/><circle cx="159.6" cy="258.7" r="1.45"/><circle cx="160.3" cy="258.9" r="1.45"/><circle cx="161.0" cy="259.3" r="1.45"/><circle cx="161.6" cy="260.3" r="1.45"/><circle cx="162.3" cy="260.9" r="1.45"/><circle cx="163.0" cy="261.5" r="1.45"/><circle cx="163.6" cy="262.0" r="1.45"/><circle cx="164.2" cy="262.7" r="1.45"/><circle cx="164.9" cy="263.2" r="1.45"/><circle cx="165.5" cy="264.0" r="1.45"/><circle cx="166.1" cy="264.3" r="1.45"/><circle cx="166.7" cy="265.0" r="1.45"/><circle cx="167.3" cy="265.5" r="1.45"/><circle cx="167.9" cy="266.4" r="1.45"/><circle cx="168.4" cy="266.7" r="1.45"/><circle cx="169.0" cy="267.1" r="1.45"/><circle cx="169.6" cy="267.8" r="1.45"/><circle cx="170.1" cy="268.3" r="1.45"/><circle cx="170.7" cy="268.9" r="1.45"/><circle cx="171.2" cy="269.3" r="1.45"/><circle cx="171.8" cy="270.0" r="1.45"/><circle cx="172.3" cy="270.4" r="1.45"/><circle cx="172.8" cy="270.6" r="1.45"/><circle cx="173.3" cy="271.0" r="1.45"/><circle cx="173.8" cy="271.7" r="1.45"/><circle cx="174.3" cy="272.1" r="1.45"/><circle cx="174.8" cy="272.4" r="1.45"/><circle cx="175.3" cy="272.6" r="1.45"/></g>
<polyline points="174.8,272.2 175.5,273.1 176.2,273.8 176.9,274.4 177.6,274.7 178.3,275.6 179.0,276.0 179.7,276.7 180.4,277.2 181.1,277.7 181.8,278.2 182.5,278.6 183.2,279.3 183.9,279.7 184.6,280.5 185.3,281.0 186.0,281.6 186.7,282.1 187.4,282.5 188.1,283.1 188.8,283.6 189.5,284.2 190.2,284.6 190.9,285.0 191.6,285.6 192.3,286.0 193.0,286.4 193.7,287.0 194.4,287.5 195.1,287.7 195.8,288.1 196.5,288.4 197.2,288.9 197.9,289.3 198.6,289.5 199.3,290.0 200.0,290.4 200.7,290.6 201.4,291.0 202.1,291.3 202.8,291.7 203.5,291.9 204.2,292.2 204.9,292.7 205.6,292.8 206.3,293.2 207.0,293.4 207.7,293.6 208.4,294.0 209.1,294.2 209.8,294.4 210.5,294.8 211.2,295.0 211.9,295.3 212.6,295.4 213.3,295.7 214.0,295.9 214.7,296.2 215.4,296.4 216.1,296.6 216.8,296.7 217.5,296.9 218.2,297.2 218.9,297.4 219.6,297.5 220.3,297.7 221.0,297.9 221.7,298.1 222.4,298.2 223.1,298.4 223.8,298.6 224.5,298.8 225.2,299.0 225.9,299.2 226.6,299.4 227.3,299.6 228.0,299.8 228.7,300.0 229.4,300.2 230.1,300.4 230.8,300.7 231.5,300.8 232.2,301.1 232.9,301.3 233.6,301.6 234.3,301.8 235.0,302.1 235.7,302.3 236.4,302.5 237.1,302.7 237.8,302.9 238.5,303.2 239.2,303.5 239.9,303.7 240.6,304.0 241.3,304.2 242.0,304.4 242.7,304.7 243.4,304.9 244.1,305.2 244.8,305.4 245.5,305.7 246.2,305.9 246.9,306.2 247.6,306.4 248.3,306.7 249.0,306.9 249.7,307.2 250.4,307.5 251.1,307.7 251.8,308.0 252.5,308.3 253.2,308.6 253.9,308.8 254.6,309.1 255.3,309.3 256.0,309.6 256.7,309.9 257.4,310.1 258.1,310.4 258.8,310.6 259.5,310.9 260.2,311.2 260.9,311.5 261.6,311.7 262.3,312.0 263.0,312.3 263.7,312.5 264.4,312.8 265.1,313.0 265.8,313.3 266.5,313.6 267.2,313.9 267.9,314.1 268.6,314.4 269.3,314.7 270.0,314.9 270.7,315.2 271.4,315.5 272.1,315.7 272.8,316.0 273.5,316.3 274.2,316.5 274.9,316.8 275.6,317.1 276.3,317.3 277.0,317.6 277.7,317.8 278.4,318.1 279.1,318.4 279.8,318.6 280.5,318.9" fill="none" stroke="#000" stroke-width="2.5" stroke-linejoin="round"/>
</g>
<g clip-path="url(#c4)">
<g fill="#ff4500"><circle cx="305.9" cy="228.6" r="1.25"/><circle cx="320.9" cy="229.1" r="1.25"/><circle cx="328.8" cy="228.4" r="1.25"/><circle cx="335.4" cy="230.7" r="1.25"/><circle cx="339.7" cy="233.0" r="1.25"/><circle cx="343.8" cy="234.8" r="1.25"/><circle cx="351.1" cy="237.4" r="1.25"/><circle cx="353.3" cy="237.2" r="1.25"/><circle cx="355.4" cy="240.2" r="1.25"/><circle cx="357.4" cy="239.7" r="1.25"/><circle cx="359.4" cy="240.3" r="1.25"/><circle cx="361.2" cy="241.5" r="1.25"/><circle cx="363.0" cy="240.7" r="1.25"/><circle cx="364.7" cy="243.0" r="1.25"/><circle cx="366.3" cy="243.0" r="1.25"/><circle cx="367.9" cy="243.9" r="1.25"/><circle cx="369.5" cy="243.5" r="1.25"/><circle cx="370.9" cy="244.9" r="1.25"/><circle cx="372.4" cy="244.4" r="1.25"/><circle cx="373.8" cy="246.1" r="1.25"/><circle cx="375.1" cy="246.6" r="1.25"/><circle cx="376.4" cy="246.9" r="1.25"/><circle cx="377.7" cy="247.0" r="1.25"/><circle cx="378.9" cy="247.5" r="1.25"/><circle cx="380.1" cy="245.8" r="1.25"/><circle cx="381.3" cy="248.3" r="1.25"/><circle cx="382.4" cy="248.0" r="1.25"/><circle cx="383.6" cy="248.6" r="1.25"/><circle cx="384.6" cy="248.8" r="1.25"/><circle cx="385.7" cy="248.5" r="1.25"/><circle cx="386.7" cy="249.4" r="1.25"/><circle cx="387.8" cy="250.3" r="1.25"/><circle cx="388.7" cy="251.1" r="1.25"/><circle cx="389.7" cy="250.4" r="1.25"/><circle cx="390.7" cy="250.6" r="1.25"/><circle cx="391.6" cy="252.1" r="1.25"/><circle cx="392.5" cy="251.3" r="1.25"/><circle cx="393.4" cy="253.0" r="1.25"/><circle cx="394.3" cy="252.4" r="1.25"/><circle cx="395.1" cy="252.3" r="1.25"/><circle cx="395.9" cy="253.4" r="1.25"/><circle cx="396.8" cy="254.0" r="1.25"/><circle cx="397.6" cy="253.0" r="1.25"/><circle cx="398.4" cy="254.6" r="1.25"/><circle cx="399.2" cy="254.1" r="1.25"/><circle cx="399.9" cy="255.1" r="1.25"/><circle cx="400.7" cy="254.7" r="1.25"/><circle cx="401.4" cy="254.5" r="1.25"/><circle cx="402.1" cy="255.6" r="1.25"/><circle cx="402.9" cy="256.0" r="1.25"/><circle cx="403.6" cy="256.8" r="1.25"/><circle cx="404.3" cy="256.9" r="1.25"/><circle cx="404.9" cy="256.8" r="1.25"/><circle cx="405.6" cy="256.7" r="1.25"/><circle cx="406.3" cy="256.8" r="1.25"/><circle cx="406.9" cy="257.2" r="1.25"/><circle cx="407.6" cy="257.3" r="1.25"/><circle cx="408.2" cy="257.7" r="1.25"/><circle cx="408.8" cy="257.2" r="1.25"/><circle cx="409.5" cy="258.4" r="1.25"/><circle cx="410.1" cy="258.6" r="1.25"/><circle cx="410.7" cy="259.7" r="1.25"/><circle cx="411.3" cy="259.3" r="1.25"/><circle cx="411.9" cy="259.2" r="1.25"/><circle cx="412.4" cy="259.8" r="1.25"/><circle cx="413.0" cy="259.4" r="1.25"/><circle cx="413.6" cy="259.9" r="1.25"/><circle cx="414.1" cy="259.7" r="1.25"/><circle cx="414.7" cy="261.0" r="1.25"/><circle cx="415.2" cy="260.9" r="1.25"/><circle cx="415.8" cy="260.6" r="1.25"/><circle cx="416.3" cy="261.2" r="1.25"/><circle cx="416.8" cy="261.7" r="1.25"/><circle cx="417.3" cy="261.7" r="1.25"/><circle cx="417.8" cy="261.9" r="1.25"/><circle cx="418.3" cy="261.7" r="1.25"/></g>
<polyline points="417.8,261.7 418.5,262.1 419.2,262.4 419.9,262.4 420.6,262.6 421.3,263.2 422.0,263.1 422.7,263.6 423.4,263.7 424.1,264.0 424.8,264.3 425.5,264.4 426.2,264.6 426.9,264.6 427.6,264.8 428.3,265.2 429.0,265.5 429.7,265.7 430.4,266.0 431.1,265.9 431.8,266.1 432.5,266.4 433.2,266.5 433.9,266.7 434.6,266.8 435.3,267.3 436.0,267.2 436.7,267.7 437.4,267.7 438.1,268.2 438.8,268.2 439.5,268.6 440.2,268.6 440.9,269.0 441.6,269.4 442.3,269.4 443.0,269.8 443.7,270.0 444.4,270.0 445.1,270.6 445.8,270.8 446.5,270.9 447.2,271.4 447.9,271.5 448.6,271.7 449.3,272.1 450.0,272.3 450.7,272.8 451.4,272.7 452.1,273.2 452.8,273.5 453.5,273.5 454.2,273.8 454.9,274.2 455.6,274.4 456.3,274.7 457.0,275.0 457.7,275.2 458.4,275.4 459.1,275.5 459.8,276.0 460.5,276.1 461.2,276.4 461.9,276.7 462.6,276.8 463.3,277.3 464.0,277.4 464.7,277.7 465.4,277.8 466.1,278.0 466.8,278.3 467.5,278.5 468.2,278.7 468.9,279.0 469.6,279.2 470.3,279.5 471.0,279.6 471.7,280.0 472.4,280.2 473.1,280.2 473.8,280.6 474.5,280.8 475.2,281.1 475.9,281.3 476.6,281.5 477.3,281.8 478.0,282.1 478.7,282.3 479.4,282.5 480.1,282.7 480.8,283.0 481.5,283.2 482.2,283.4 482.9,283.8 483.6,283.9 484.3,284.2 485.0,284.5 485.7,284.7 486.4,285.0 487.1,285.2 487.8,285.4 488.5,285.6 489.2,286.0 489.9,286.2 490.6,286.5 491.3,286.6 492.0,286.8 492.7,287.2 493.4,287.4 494.1,287.6 494.8,287.9 495.5,288.2 496.2,288.4 496.9,288.6 497.6,288.9 498.3,289.1 499.0,289.3 499.7,289.7 500.4,289.9 501.1,290.1 501.8,290.3 502.5,290.6 503.2,290.9 503.9,291.1 504.6,291.3 505.3,291.6 506.0,291.8 506.7,292.1 507.4,292.3 508.1,292.6 508.8,292.8 509.5,293.1 510.2,293.3 510.9,293.5 511.6,293.8 512.3,294.1 513.0,294.3 513.7,294.5 514.4,294.7 515.1,295.0 515.8,295.2 516.5,295.5 517.2,295.8 517.9,296.0 518.6,296.2 519.3,296.5 520.0,296.7 520.7,296.9 521.4,297.2 522.1,297.4 522.8,297.6 523.5,297.9 524.2,298.1 524.9,298.3 525.6,298.6 526.3,298.8" fill="none" stroke="#ff4500" stroke-width="3.2" stroke-linejoin="round"/>
<g fill="none" stroke="#33f" stroke-width="0.5"><circle cx="305.9" cy="201.5" r="1.45"/><circle cx="320.9" cy="208.1" r="1.45"/><circle cx="328.8" cy="212.2" r="1.45"/><circle cx="335.4" cy="223.7" r="1.45"/><circle cx="339.7" cy="226.2" r="1.45"/><circle cx="343.8" cy="224.0" r="1.45"/><circle cx="351.1" cy="232.3" r="1.45"/><circle cx="353.3" cy="230.1" r="1.45"/><circle cx="355.4" cy="233.4" r="1.45"/><circle cx="357.4" cy="236.8" r="1.45"/><circle cx="359.4" cy="235.6" r="1.45"/><circle cx="361.2" cy="238.1" r="1.45"/><circle cx="363.0" cy="239.3" r="1.45"/><circle cx="364.7" cy="238.8" r="1.45"/><circle cx="366.3" cy="241.6" r="1.45"/><circle cx="367.9" cy="241.7" r="1.45"/><circle cx="369.5" cy="244.4" r="1.45"/><circle cx="370.9" cy="245.1" r="1.45"/><circle cx="372.4" cy="244.2" r="1.45"/><circle cx="373.8" cy="245.1" r="1.45"/><circle cx="375.1" cy="247.9" r="1.45"/><circle cx="376.4" cy="246.0" r="1.45"/><circle cx="377.7" cy="249.6" r="1.45"/><circle cx="378.9" cy="249.7" r="1.45"/><circle cx="380.1" cy="248.7" r="1.45"/><circle cx="381.3" cy="249.7" r="1.45" fill="#ededff"/><circle cx="382.4" cy="251.2" r="1.45" fill="#dadaff"/><circle cx="383.6" cy="250.1" r="1.45" fill="#c6c6ff"/><circle cx="384.6" cy="250.8" r="1.45" fill="#b2b2ff"/><circle cx="385.7" cy="252.9" r="1.45" fill="#9f9fff"/><circle cx="386.7" cy="253.0" r="1.45" fill="#8b8bff"/><circle cx="387.8" cy="253.6" r="1.45" fill="#7777ff"/><circle cx="388.7" cy="255.8" r="1.45" fill="#6464ff"/><circle cx="389.7" cy="254.4" r="1.45" fill="#5050ff"/><circle cx="390.7" cy="254.3" r="1.45" fill="#3c3cff"/><circle cx="391.6" cy="255.9" r="1.45" fill="#2929ff"/><circle cx="392.5" cy="256.0" r="1.45" fill="#1818ff"/><circle cx="393.4" cy="255.6" r="1.45" fill="#1818ff"/><circle cx="394.3" cy="255.7" r="1.45" fill="#1818ff"/><circle cx="395.1" cy="257.0" r="1.45" fill="#1818ff"/><circle cx="395.9" cy="256.8" r="1.45" fill="#1818ff"/><circle cx="396.8" cy="256.9" r="1.45" fill="#1818ff"/><circle cx="397.6" cy="257.3" r="1.45" fill="#1818ff"/><circle cx="398.4" cy="259.0" r="1.45" fill="#1818ff"/><circle cx="399.2" cy="258.3" r="1.45" fill="#1818ff"/><circle cx="399.9" cy="258.9" r="1.45" fill="#1818ff"/><circle cx="400.7" cy="258.2" r="1.45" fill="#1818ff"/><circle cx="401.4" cy="258.6" r="1.45" fill="#1818ff"/><circle cx="402.1" cy="258.6" r="1.45" fill="#1818ff"/><circle cx="402.9" cy="260.0" r="1.45" fill="#1818ff"/><circle cx="403.6" cy="259.9" r="1.45" fill="#1818ff"/><circle cx="404.3" cy="259.3" r="1.45" fill="#1818ff"/><circle cx="404.9" cy="262.1" r="1.45" fill="#1818ff"/><circle cx="405.6" cy="261.1" r="1.45" fill="#1818ff"/><circle cx="406.3" cy="260.9" r="1.45" fill="#1818ff"/><circle cx="406.9" cy="262.1" r="1.45" fill="#1818ff"/><circle cx="407.6" cy="262.1" r="1.45" fill="#1818ff"/><circle cx="408.2" cy="262.3" r="1.45" fill="#1818ff"/><circle cx="408.8" cy="263.1" r="1.45" fill="#1818ff"/><circle cx="409.5" cy="262.5" r="1.45" fill="#1818ff"/><circle cx="410.1" cy="263.2" r="1.45" fill="#1818ff"/><circle cx="410.7" cy="262.6" r="1.45" fill="#1818ff"/><circle cx="411.3" cy="262.7" r="1.45" fill="#1818ff"/><circle cx="411.9" cy="263.0" r="1.45" fill="#1818ff"/><circle cx="412.4" cy="263.9" r="1.45" fill="#1818ff"/><circle cx="413.0" cy="264.0" r="1.45" fill="#1818ff"/><circle cx="413.6" cy="263.9" r="1.45" fill="#1818ff"/><circle cx="414.1" cy="264.6" r="1.45" fill="#1818ff"/><circle cx="414.7" cy="265.1" r="1.45" fill="#1818ff"/><circle cx="415.2" cy="264.1" r="1.45" fill="#1818ff"/><circle cx="415.8" cy="265.2" r="1.45" fill="#1818ff"/><circle cx="416.3" cy="265.6" r="1.45" fill="#1818ff"/><circle cx="416.8" cy="265.5" r="1.45" fill="#1818ff"/><circle cx="417.3" cy="265.8" r="1.45" fill="#1818ff"/><circle cx="417.8" cy="265.6" r="1.45" fill="#1818ff"/><circle cx="418.3" cy="265.4" r="1.45" fill="#1818ff"/></g>
<polyline points="417.8,266.0 418.5,265.9 419.2,266.0 419.9,266.1 420.6,266.8 421.3,267.1 422.0,267.4 422.7,267.3 423.4,267.7 424.1,267.5 424.8,267.9 425.5,268.0 426.2,268.4 426.9,268.7 427.6,269.0 428.3,268.7 429.0,269.4 429.7,269.2 430.4,269.3 431.1,269.7 431.8,269.6 432.5,270.1 433.2,270.4 433.9,270.5 434.6,270.9 435.3,270.9 436.0,271.2 436.7,271.1 437.4,271.6 438.1,271.7 438.8,272.0 439.5,272.3 440.2,272.6 440.9,272.5 441.6,272.8 442.3,273.2 443.0,273.6 443.7,273.8 444.4,274.1 445.1,274.4 445.8,274.6 446.5,274.7 447.2,274.8 447.9,275.1 448.6,275.4 449.3,275.8 450.0,276.0 450.7,276.3 451.4,276.5 452.1,276.8 452.8,277.0 453.5,277.3 454.2,277.5 454.9,277.7 455.6,277.9 456.3,278.3 457.0,278.5 457.7,278.7 458.4,278.9 459.1,279.5 459.8,279.4 460.5,279.7 461.2,279.9 461.9,280.0 462.6,280.4 463.3,280.8 464.0,280.9 464.7,281.1 465.4,281.3 466.1,281.5 466.8,281.8 467.5,281.9 468.2,282.1 468.9,282.4 469.6,282.7 470.3,282.8 471.0,283.1 471.7,283.1 472.4,283.6 473.1,283.9 473.8,284.0 474.5,284.1 475.2,284.3 475.9,284.6 476.6,284.8 477.3,285.1 478.0,285.3 478.7,285.6 479.4,285.9 480.1,285.9 480.8,286.3 481.5,286.4 482.2,286.6 482.9,286.9 483.6,287.2 484.3,287.5 485.0,287.6 485.7,288.0 486.4,288.3 487.1,288.4 487.8,288.7 488.5,288.9 489.2,289.1 489.9,289.4 490.6,289.6 491.3,289.9 492.0,290.3 492.7,290.4 493.4,290.6 494.1,290.9 494.8,291.0 495.5,291.3 496.2,291.6 496.9,291.8 497.6,292.1 498.3,292.3 499.0,292.6 499.7,292.9 500.4,293.1 501.1,293.3 501.8,293.6 502.5,293.8 503.2,294.0 503.9,294.3 504.6,294.6 505.3,294.8 506.0,295.1 506.7,295.3 507.4,295.5 508.1,295.8 508.8,296.0 509.5,296.3 510.2,296.5 510.9,296.8 511.6,297.0 512.3,297.3 513.0,297.5 513.7,297.7 514.4,298.0 515.1,298.2 515.8,298.5 516.5,298.7 517.2,298.9 517.9,299.2 518.6,299.4 519.3,299.7 520.0,299.8 520.7,300.2 521.4,300.4 522.1,300.6 522.8,300.8 523.5,301.1 524.2,301.4 524.9,301.5 525.6,301.8 526.3,302.0" fill="none" stroke="#0000ff" stroke-width="3.8" stroke-linejoin="round"/>
<g fill="#f00"><rect x="304.49" y="194.73" width="2.9" height="2.9"/><rect x="319.43" y="208.36" width="2.9" height="2.9"/><rect x="327.36" y="209.95" width="2.9" height="2.9"/><rect x="333.95" y="219.27" width="2.9" height="2.9"/><rect x="338.28" y="219.36" width="2.9" height="2.9"/><rect x="342.40" y="221.28" width="2.9" height="2.9"/><rect x="349.61" y="228.18" width="2.9" height="2.9"/><rect x="351.83" y="230.82" width="2.9" height="2.9"/><rect x="353.95" y="230.19" width="2.9" height="2.9"/><rect x="355.97" y="232.42" width="2.9" height="2.9"/><rect x="357.90" y="232.60" width="2.9" height="2.9"/><rect x="359.76" y="234.85" width="2.9" height="2.9"/><rect x="361.54" y="236.27" width="2.9" height="2.9"/><rect x="363.25" y="235.95" width="2.9" height="2.9"/><rect x="364.89" y="237.53" width="2.9" height="2.9"/><rect x="366.48" y="237.32" width="2.9" height="2.9"/><rect x="368.02" y="240.06" width="2.9" height="2.9"/><rect x="369.50" y="241.69" width="2.9" height="2.9"/><rect x="370.93" y="241.61" width="2.9" height="2.9"/><rect x="372.32" y="244.12" width="2.9" height="2.9"/><rect x="373.67" y="242.64" width="2.9" height="2.9"/><rect x="374.98" y="243.92" width="2.9" height="2.9"/><rect x="376.25" y="245.35" width="2.9" height="2.9"/><rect x="377.49" y="247.05" width="2.9" height="2.9"/><rect x="378.69" y="248.39" width="2.9" height="2.9"/><rect x="379.86" y="249.25" width="2.9" height="2.9"/><rect x="381.00" y="250.16" width="2.9" height="2.9"/><rect x="382.11" y="251.55" width="2.9" height="2.9"/><rect x="383.20" y="251.56" width="2.9" height="2.9"/><rect x="384.26" y="251.84" width="2.9" height="2.9"/><rect x="385.29" y="252.61" width="2.9" height="2.9"/><rect x="386.30" y="255.40" width="2.9" height="2.9"/><rect x="387.29" y="253.32" width="2.9" height="2.9"/><rect x="388.26" y="255.27" width="2.9" height="2.9"/><rect x="389.20" y="256.83" width="2.9" height="2.9"/><rect x="390.13" y="256.83" width="2.9" height="2.9"/><rect x="391.04" y="256.65" width="2.9" height="2.9"/><rect x="391.93" y="257.67" width="2.9" height="2.9"/><rect x="392.80" y="258.66" width="2.9" height="2.9"/><rect x="393.66" y="259.35" width="2.9" height="2.9"/><rect x="394.50" y="258.73" width="2.9" height="2.9"/><rect x="395.32" y="260.08" width="2.9" height="2.9"/><rect x="396.13" y="260.28" width="2.9" height="2.9"/><rect x="396.92" y="261.15" width="2.9" height="2.9"/><rect x="397.70" y="261.73" width="2.9" height="2.9"/><rect x="398.47" y="261.30" width="2.9" height="2.9"/><rect x="399.23" y="261.19" width="2.9" height="2.9"/><rect x="399.97" y="262.47" width="2.9" height="2.9"/><rect x="400.70" y="263.50" width="2.9" height="2.9"/><rect x="401.41" y="263.37" width="2.9" height="2.9"/><rect x="402.12" y="263.53" width="2.9" height="2.9"/><rect x="402.82" y="264.84" width="2.9" height="2.9"/><rect x="403.50" y="263.67" width="2.9" height="2.9"/><rect x="404.17" y="264.86" width="2.9" height="2.9"/><rect x="404.84" y="264.55" width="2.9" height="2.9"/><rect x="405.49" y="265.13" width="2.9" height="2.9"/><rect x="406.14" y="265.46" width="2.9" height="2.9"/><rect x="406.77" y="266.35" width="2.9" height="2.9"/><rect x="407.40" y="265.64" width="2.9" height="2.9"/><rect x="408.02" y="266.09" width="2.9" height="2.9"/><rect x="408.63" y="265.95" width="2.9" height="2.9"/><rect x="409.23" y="267.04" width="2.9" height="2.9"/><rect x="409.82" y="266.94" width="2.9" height="2.9"/><rect x="410.41" y="267.53" width="2.9" height="2.9"/><rect x="410.99" y="267.21" width="2.9" height="2.9"/><rect x="411.56" y="267.72" width="2.9" height="2.9"/><rect x="412.12" y="268.47" width="2.9" height="2.9"/><rect x="412.68" y="268.25" width="2.9" height="2.9"/><rect x="413.22" y="268.76" width="2.9" height="2.9"/><rect x="413.77" y="268.94" width="2.9" height="2.9"/><rect x="414.30" y="268.84" width="2.9" height="2.9"/><rect x="414.83" y="268.63" width="2.9" height="2.9"/><rect x="415.36" y="269.71" width="2.9" height="2.9"/><rect x="415.87" y="269.62" width="2.9" height="2.9"/><rect x="416.39" y="270.08" width="2.9" height="2.9"/><rect x="416.89" y="269.26" width="2.9" height="2.9"/></g>
<polyline points="417.8,270.9 418.5,271.0 419.2,271.5 419.9,272.1 420.6,272.3 421.3,272.4 422.0,272.7 422.7,273.0 423.4,273.0 424.1,273.4 424.8,273.5 425.5,273.3 426.2,273.8 426.9,274.3 427.6,274.3 428.3,274.5 429.0,274.6 429.7,274.8 430.4,275.3 431.1,275.3 431.8,275.4 432.5,275.3 433.2,275.9 433.9,275.9 434.6,276.1 435.3,276.7 436.0,276.9 436.7,276.7 437.4,277.3 438.1,277.5 438.8,277.6 439.5,278.0 440.2,277.9 440.9,278.2 441.6,278.4 442.3,278.7 443.0,279.2 443.7,279.2 444.4,279.4 445.1,279.7 445.8,280.1 446.5,280.3 447.2,280.6 447.9,280.7 448.6,280.9 449.3,281.2 450.0,281.5 450.7,281.7 451.4,282.1 452.1,282.5 452.8,282.5 453.5,282.8 454.2,283.1 454.9,283.2 455.6,283.4 456.3,283.6 457.0,284.0 457.7,284.3 458.4,284.5 459.1,284.7 459.8,285.1 460.5,285.3 461.2,285.3 461.9,285.6 462.6,285.9 463.3,286.2 464.0,286.3 464.7,286.5 465.4,286.8 466.1,286.9 466.8,287.2 467.5,287.4 468.2,287.7 468.9,287.8 469.6,288.1 470.3,288.3 471.0,288.5 471.7,288.9 472.4,289.0 473.1,289.3 473.8,289.4 474.5,289.8 475.2,289.9 475.9,290.2 476.6,290.4 477.3,290.7 478.0,290.9 478.7,291.1 479.4,291.4 480.1,291.6 480.8,291.9 481.5,292.1 482.2,292.3 482.9,292.5 483.6,292.8 484.3,293.0 485.0,293.3 485.7,293.6 486.4,293.8 487.1,294.0 487.8,294.2 488.5,294.4 489.2,294.7 489.9,295.0 490.6,295.1 491.3,295.4 492.0,295.7 492.7,295.9 493.4,296.1 494.1,296.4 494.8,296.7 495.5,296.9 496.2,297.1 496.9,297.3 497.6,297.6 498.3,297.8 499.0,298.0 499.7,298.3 500.4,298.5 501.1,298.7 501.8,299.0 502.5,299.3 503.2,299.5 503.9,299.7 504.6,299.9 505.3,300.1 506.0,300.4 506.7,300.7 507.4,300.9 508.1,301.1 508.8,301.4 509.5,301.6 510.2,301.8 510.9,302.1 511.6,302.3 512.3,302.6 513.0,302.8 513.7,303.1 514.4,303.3 515.1,303.5 515.8,303.8 516.5,304.0 517.2,304.3 517.9,304.5 518.6,304.7 519.3,305.0 520.0,305.2 520.7,305.4 521.4,305.7 522.1,305.9 522.8,306.2 523.5,306.4 524.2,306.6 524.9,306.9 525.6,307.1 526.3,307.4" fill="none" stroke="#ff0000" stroke-width="3.8" stroke-linejoin="round"/>
<g fill="#fff" stroke="#999" stroke-width="0.42"><rect x="304.5" y="193.4" width="2.8" height="2.8"/><rect x="319.5" y="202.6" width="2.8" height="2.8"/><rect x="327.4" y="208.5" width="2.8" height="2.8"/><rect x="334.0" y="216.1" width="2.8" height="2.8"/><rect x="338.3" y="218.4" width="2.8" height="2.8"/><rect x="342.4" y="220.6" width="2.8" height="2.8"/><rect x="349.7" y="226.4" width="2.8" height="2.8"/><rect x="351.9" y="227.1" width="2.8" height="2.8"/><rect x="354.0" y="228.6" width="2.8" height="2.8"/><rect x="356.0" y="230.7" width="2.8" height="2.8"/><rect x="358.0" y="230.1" width="2.8" height="2.8"/><rect x="359.8" y="232.1" width="2.8" height="2.8"/><rect x="361.6" y="232.7" width="2.8" height="2.8"/><rect x="363.3" y="234.2" width="2.8" height="2.8"/><rect x="364.9" y="235.9" width="2.8" height="2.8"/><rect x="366.5" y="237.3" width="2.8" height="2.8"/><rect x="368.1" y="238.9" width="2.8" height="2.8"/><rect x="369.5" y="239.7" width="2.8" height="2.8"/><rect x="371.0" y="241.0" width="2.8" height="2.8" fill="#fafafa"/><rect x="372.4" y="241.7" width="2.8" height="2.8" fill="#f4f4f4"/><rect x="373.7" y="242.1" width="2.8" height="2.8" fill="#efefef"/><rect x="375.0" y="243.9" width="2.8" height="2.8" fill="#eaeaea"/><rect x="376.3" y="244.1" width="2.8" height="2.8" fill="#e5e5e5"/><rect x="377.5" y="245.0" width="2.8" height="2.8" fill="#e0e0e0"/><rect x="378.7" y="247.0" width="2.8" height="2.8" fill="#dbdbdb"/><rect x="379.9" y="247.5" width="2.8" height="2.8" fill="#d5d5d5"/><rect x="381.0" y="248.2" width="2.8" height="2.8" fill="#d0d0d0"/><rect x="382.2" y="249.3" width="2.8" height="2.8" fill="#cbcbcb"/><rect x="383.2" y="250.2" width="2.8" height="2.8" fill="#c6c6c6"/><rect x="384.3" y="250.1" width="2.8" height="2.8" fill="#c1c1c1"/><rect x="385.3" y="251.5" width="2.8" height="2.8" fill="#bbbbbb"/><rect x="386.4" y="251.9" width="2.8" height="2.8" fill="#b6b6b6"/><rect x="387.3" y="253.2" width="2.8" height="2.8" fill="#b1b1b1"/><rect x="388.3" y="253.7" width="2.8" height="2.8" fill="#acacac"/><rect x="389.3" y="255.4" width="2.8" height="2.8" fill="#a7a7a7"/><rect x="390.2" y="255.8" width="2.8" height="2.8" fill="#a1a1a1"/><rect x="391.1" y="256.1" width="2.8" height="2.8" fill="#9c9c9c"/><rect x="392.0" y="257.3" width="2.8" height="2.8" fill="#979797"/><rect x="392.9" y="257.6" width="2.8" height="2.8" fill="#929292"/><rect x="393.7" y="258.9" width="2.8" height="2.8" fill="#8d8d8d"/><rect x="394.5" y="259.9" width="2.8" height="2.8" fill="#888888"/><rect x="395.4" y="260.6" width="2.8" height="2.8" fill="#858585"/><rect x="396.2" y="260.6" width="2.8" height="2.8" fill="#858585"/><rect x="397.0" y="262.0" width="2.8" height="2.8" fill="#858585"/><rect x="397.8" y="263.0" width="2.8" height="2.8" fill="#858585"/><rect x="398.5" y="263.7" width="2.8" height="2.8" fill="#858585"/><rect x="399.3" y="264.7" width="2.8" height="2.8" fill="#858585"/><rect x="400.0" y="264.6" width="2.8" height="2.8" fill="#858585"/><rect x="400.7" y="265.8" width="2.8" height="2.8" fill="#858585"/><rect x="401.5" y="266.1" width="2.8" height="2.8" fill="#858585"/><rect x="402.2" y="267.0" width="2.8" height="2.8" fill="#858585"/><rect x="402.9" y="267.7" width="2.8" height="2.8" fill="#858585"/><rect x="403.5" y="268.4" width="2.8" height="2.8" fill="#858585"/><rect x="404.2" y="268.6" width="2.8" height="2.8" fill="#858585"/><rect x="404.9" y="269.4" width="2.8" height="2.8" fill="#858585"/><rect x="405.5" y="269.5" width="2.8" height="2.8" fill="#858585"/><rect x="406.2" y="269.9" width="2.8" height="2.8" fill="#858585"/><rect x="406.8" y="271.0" width="2.8" height="2.8" fill="#858585"/><rect x="407.4" y="271.3" width="2.8" height="2.8" fill="#858585"/><rect x="408.1" y="271.3" width="2.8" height="2.8" fill="#858585"/><rect x="408.7" y="271.9" width="2.8" height="2.8" fill="#858585"/><rect x="409.3" y="272.6" width="2.8" height="2.8" fill="#858585"/><rect x="409.9" y="273.4" width="2.8" height="2.8" fill="#858585"/><rect x="410.5" y="273.7" width="2.8" height="2.8" fill="#858585"/><rect x="411.0" y="274.0" width="2.8" height="2.8" fill="#858585"/><rect x="411.6" y="273.7" width="2.8" height="2.8" fill="#858585"/><rect x="412.2" y="274.5" width="2.8" height="2.8" fill="#858585"/><rect x="412.7" y="274.9" width="2.8" height="2.8" fill="#858585"/><rect x="413.3" y="275.3" width="2.8" height="2.8" fill="#858585"/><rect x="413.8" y="275.6" width="2.8" height="2.8" fill="#858585"/><rect x="414.4" y="275.7" width="2.8" height="2.8" fill="#858585"/><rect x="414.9" y="276.5" width="2.8" height="2.8" fill="#858585"/><rect x="415.4" y="276.8" width="2.8" height="2.8" fill="#858585"/><rect x="415.9" y="276.7" width="2.8" height="2.8" fill="#858585"/><rect x="416.4" y="276.8" width="2.8" height="2.8" fill="#858585"/><rect x="416.9" y="277.7" width="2.8" height="2.8" fill="#858585"/></g>
<polyline points="417.8,278.3 418.5,279.0 419.2,279.4 419.9,279.4 420.6,279.9 421.3,280.2 422.0,280.7 422.7,281.0 423.4,281.5 424.1,281.7 424.8,281.9 425.5,282.3 426.2,282.5 426.9,282.8 427.6,283.4 428.3,283.3 429.0,283.6 429.7,283.9 430.4,284.0 431.1,284.2 431.8,284.7 432.5,284.8 433.2,285.0 433.9,285.3 434.6,285.4 435.3,285.6 436.0,285.9 436.7,286.4 437.4,286.4 438.1,286.6 438.8,286.6 439.5,286.9 440.2,286.9 440.9,287.3 441.6,287.4 442.3,287.6 443.0,287.7 443.7,287.9 444.4,288.0 445.1,288.3 445.8,288.3 446.5,288.5 447.2,288.8 447.9,288.9 448.6,289.2 449.3,289.4 450.0,289.5 450.7,289.7 451.4,289.9 452.1,290.1 452.8,290.1 453.5,290.5 454.2,290.6 454.9,290.7 455.6,291.0 456.3,291.2 457.0,291.4 457.7,291.7 458.4,291.6 459.1,292.0 459.8,292.3 460.5,292.4 461.2,292.6 461.9,292.7 462.6,292.8 463.3,293.0 464.0,293.3 464.7,293.5 465.4,293.6 466.1,293.9 466.8,294.1 467.5,294.2 468.2,294.4 468.9,294.7 469.6,294.9 470.3,295.0 471.0,295.3 471.7,295.4 472.4,295.6 473.1,295.7 473.8,296.1 474.5,296.2 475.2,296.6 475.9,296.7 476.6,296.9 477.3,297.0 478.0,297.4 478.7,297.5 479.4,297.8 480.1,297.9 480.8,298.3 481.5,298.5 482.2,298.7 482.9,298.9 483.6,299.2 484.3,299.4 485.0,299.6 485.7,299.9 486.4,300.1 487.1,300.3 487.8,300.5 488.5,300.7 489.2,301.0 489.9,301.3 490.6,301.5 491.3,301.7 492.0,302.0 492.7,302.2 493.4,302.5 494.1,302.7 494.8,303.0 495.5,303.2 496.2,303.5 496.9,303.8 497.6,303.9 498.3,304.2 499.0,304.4 499.7,304.6 500.4,305.0 501.1,305.2 501.8,305.4 502.5,305.7 503.2,305.9 503.9,306.2 504.6,306.5 505.3,306.7 506.0,306.9 506.7,307.2 507.4,307.5 508.1,307.7 508.8,307.9 509.5,308.2 510.2,308.4 510.9,308.7 511.6,308.9 512.3,309.2 513.0,309.4 513.7,309.7 514.4,309.9 515.1,310.2 515.8,310.5 516.5,310.6 517.2,310.9 517.9,311.2 518.6,311.4 519.3,311.6 520.0,311.9 520.7,312.1 521.4,312.4 522.1,312.6 522.8,312.8 523.5,313.1 524.2,313.3 524.9,313.5 525.6,313.8 526.3,314.0" fill="none" stroke="#808080" stroke-width="3.1" stroke-linejoin="round"/>
<g fill="#000"><circle cx="305.9" cy="194.0" r="1.45"/><circle cx="320.9" cy="204.0" r="1.45"/><circle cx="328.8" cy="209.6" r="1.45"/><circle cx="335.4" cy="213.4" r="1.45"/><circle cx="339.7" cy="216.9" r="1.45"/><circle cx="343.8" cy="220.5" r="1.45"/><circle cx="351.1" cy="227.4" r="1.45"/><circle cx="353.3" cy="229.6" r="1.45"/><circle cx="355.4" cy="228.3" r="1.45"/><circle cx="357.4" cy="230.6" r="1.45"/><circle cx="359.4" cy="231.2" r="1.45"/><circle cx="361.2" cy="234.6" r="1.45"/><circle cx="363.0" cy="234.3" r="1.45"/><circle cx="364.7" cy="235.4" r="1.45"/><circle cx="366.3" cy="236.2" r="1.45"/><circle cx="367.9" cy="238.6" r="1.45"/><circle cx="369.5" cy="238.9" r="1.45"/><circle cx="370.9" cy="240.4" r="1.45"/><circle cx="372.4" cy="240.1" r="1.45"/><circle cx="373.8" cy="243.1" r="1.45"/><circle cx="375.1" cy="243.7" r="1.45"/><circle cx="376.4" cy="244.8" r="1.45"/><circle cx="377.7" cy="246.2" r="1.45"/><circle cx="378.9" cy="246.4" r="1.45"/><circle cx="380.1" cy="247.4" r="1.45"/><circle cx="381.3" cy="248.8" r="1.45"/><circle cx="382.4" cy="249.6" r="1.45"/><circle cx="383.6" cy="250.2" r="1.45"/><circle cx="384.6" cy="251.3" r="1.45"/><circle cx="385.7" cy="251.9" r="1.45"/><circle cx="386.7" cy="253.4" r="1.45"/><circle cx="387.8" cy="254.3" r="1.45"/><circle cx="388.7" cy="254.8" r="1.45"/><circle cx="389.7" cy="256.4" r="1.45"/><circle cx="390.7" cy="255.8" r="1.45"/><circle cx="391.6" cy="257.2" r="1.45"/><circle cx="392.5" cy="258.9" r="1.45"/><circle cx="393.4" cy="258.9" r="1.45"/><circle cx="394.3" cy="259.3" r="1.45"/><circle cx="395.1" cy="261.3" r="1.45"/><circle cx="395.9" cy="261.8" r="1.45"/><circle cx="396.8" cy="262.0" r="1.45"/><circle cx="397.6" cy="263.5" r="1.45"/><circle cx="398.4" cy="263.7" r="1.45"/><circle cx="399.2" cy="264.3" r="1.45"/><circle cx="399.9" cy="265.5" r="1.45"/><circle cx="400.7" cy="266.2" r="1.45"/><circle cx="401.4" cy="266.7" r="1.45"/><circle cx="402.1" cy="267.7" r="1.45"/><circle cx="402.9" cy="268.2" r="1.45"/><circle cx="403.6" cy="269.2" r="1.45"/><circle cx="404.3" cy="269.8" r="1.45"/><circle cx="404.9" cy="270.7" r="1.45"/><circle cx="405.6" cy="270.9" r="1.45"/><circle cx="406.3" cy="271.3" r="1.45"/><circle cx="406.9" cy="271.8" r="1.45"/><circle cx="407.6" cy="272.7" r="1.45"/><circle cx="408.2" cy="273.7" r="1.45"/><circle cx="408.8" cy="274.0" r="1.45"/><circle cx="409.5" cy="274.1" r="1.45"/><circle cx="410.1" cy="275.0" r="1.45"/><circle cx="410.7" cy="274.9" r="1.45"/><circle cx="411.3" cy="275.9" r="1.45"/><circle cx="411.9" cy="276.0" r="1.45"/><circle cx="412.4" cy="276.7" r="1.45"/><circle cx="413.0" cy="277.1" r="1.45"/><circle cx="413.6" cy="277.2" r="1.45"/><circle cx="414.1" cy="277.8" r="1.45"/><circle cx="414.7" cy="277.8" r="1.45"/><circle cx="415.2" cy="278.4" r="1.45"/><circle cx="415.8" cy="279.1" r="1.45"/><circle cx="416.3" cy="280.1" r="1.45"/><circle cx="416.8" cy="279.7" r="1.45"/><circle cx="417.3" cy="279.9" r="1.45"/><circle cx="417.8" cy="279.9" r="1.45"/><circle cx="418.3" cy="280.8" r="1.45"/></g>
<polyline points="417.8,280.0 418.5,280.5 419.2,281.2 419.9,281.4 420.6,282.2 421.3,282.6 422.0,282.8 422.7,283.3 423.4,283.6 424.1,284.0 424.8,284.7 425.5,285.1 426.2,285.5 426.9,285.8 427.6,286.1 428.3,286.6 429.0,286.7 429.7,287.2 430.4,287.7 431.1,288.0 431.8,288.2 432.5,288.5 433.2,289.0 433.9,289.3 434.6,289.3 435.3,289.6 436.0,290.0 436.7,290.3 437.4,290.4 438.1,290.7 438.8,290.9 439.5,291.4 440.2,291.4 440.9,291.6 441.6,291.7 442.3,292.1 443.0,292.2 443.7,292.3 444.4,292.6 445.1,292.7 445.8,292.9 446.5,293.1 447.2,293.3 447.9,293.6 448.6,293.8 449.3,294.1 450.0,294.3 450.7,294.4 451.4,294.6 452.1,294.9 452.8,294.9 453.5,295.2 454.2,295.5 454.9,295.7 455.6,296.0 456.3,296.1 457.0,296.2 457.7,296.5 458.4,296.8 459.1,296.9 459.8,297.1 460.5,297.3 461.2,297.5 461.9,297.8 462.6,298.0 463.3,298.1 464.0,298.3 464.7,298.6 465.4,298.8 466.1,299.0 466.8,299.2 467.5,299.3 468.2,299.6 468.9,299.9 469.6,300.1 470.3,300.2 471.0,300.4 471.7,300.7 472.4,300.9 473.1,301.1 473.8,301.4 474.5,301.6 475.2,301.8 475.9,302.0 476.6,302.2 477.3,302.4 478.0,302.7 478.7,302.8 479.4,303.1 480.1,303.4 480.8,303.5 481.5,303.8 482.2,304.0 482.9,304.2 483.6,304.5 484.3,304.7 485.0,305.0 485.7,305.1 486.4,305.4 487.1,305.6 487.8,305.9 488.5,306.1 489.2,306.3 489.9,306.5 490.6,306.8 491.3,307.0 492.0,307.3 492.7,307.6 493.4,307.7 494.1,308.0 494.8,308.2 495.5,308.4 496.2,308.7 496.9,308.9 497.6,309.2 498.3,309.4 499.0,309.6 499.7,309.9 500.4,310.1 501.1,310.4 501.8,310.6 502.5,310.9 503.2,311.1 503.9,311.3 504.6,311.5 505.3,311.8 506.0,312.0 506.7,312.3 507.4,312.6 508.1,312.7 508.8,313.0 509.5,313.2 510.2,313.4 510.9,313.7 511.6,314.0 512.3,314.2 513.0,314.4 513.7,314.7 514.4,314.9 515.1,315.2 515.8,315.4 516.5,315.6 517.2,315.8 517.9,316.1 518.6,316.3 519.3,316.6 520.0,316.8 520.7,317.0 521.4,317.2 522.1,317.5 522.8,317.7 523.5,318.0 524.2,318.2 524.9,318.4 525.6,318.7 526.3,318.9" fill="none" stroke="#000" stroke-width="2.3" stroke-linejoin="round"/>
<line x1="300" y1="177.0" x2="437.1" y2="292.4" stroke="#000" stroke-width="1.3"/>
</g>
<rect x="55.2" y="8.9" width="223.2" height="156.79999999999998" fill="none" stroke="#666" stroke-width="1.05"/>
<path d="M55.2,26.32h2.0M278.4,26.32h-2.0M55.2,43.74h4.0M278.4,43.74h-4.0M55.2,61.17h2.0M278.4,61.17h-2.0M55.2,78.59h4.0M278.4,78.59h-4.0M55.2,96.01h2.0M278.4,96.01h-2.0M55.2,113.43h4.0M278.4,113.43h-4.0M55.2,130.86h2.0M278.4,130.86h-2.0M55.2,148.28h4.0M278.4,148.28h-4.0M88.10,8.9v3.6M88.10,165.7v-3.6M135.57,8.9v3.6M135.57,165.7v-3.6M187.60,8.9v3.6M187.60,165.7v-3.6M235.07,8.9v3.6M235.07,165.7v-3.6" stroke="#666" stroke-width="1" fill="none"/>
<rect x="294.4" y="8.9" width="229.80000000000007" height="156.79999999999998" fill="none" stroke="#666" stroke-width="1.05"/>
<path d="M294.4,26.32h2.0M524.2,26.32h-2.0M294.4,43.74h4.0M524.2,43.74h-4.0M294.4,61.17h2.0M524.2,61.17h-2.0M294.4,78.59h4.0M524.2,78.59h-4.0M294.4,96.01h2.0M524.2,96.01h-2.0M294.4,113.43h4.0M524.2,113.43h-4.0M294.4,130.86h2.0M524.2,130.86h-2.0M294.4,148.28h4.0M524.2,148.28h-4.0M328.50,8.9v3.6M328.50,165.7v-3.6M377.40,8.9v3.6M377.40,165.7v-3.6M431.00,8.9v3.6M431.00,165.7v-3.6M479.90,8.9v3.6M479.90,165.7v-3.6" stroke="#666" stroke-width="1" fill="none"/>
<rect x="55.2" y="182.8" width="223.2" height="154.89999999999998" fill="none" stroke="#666" stroke-width="1.05"/>
<path d="M55.2,200.01h2.0M278.4,200.01h-2.0M55.2,217.22h4.0M278.4,217.22h-4.0M55.2,234.43h2.0M278.4,234.43h-2.0M55.2,251.64h4.0M278.4,251.64h-4.0M55.2,268.86h2.0M278.4,268.86h-2.0M55.2,286.07h4.0M278.4,286.07h-4.0M55.2,303.28h2.0M278.4,303.28h-2.0M55.2,320.49h4.0M278.4,320.49h-4.0M88.10,182.8v3.6M88.10,337.7v-3.6M135.57,182.8v3.6M135.57,337.7v-3.6M187.60,182.8v3.6M187.60,337.7v-3.6M235.07,182.8v3.6M235.07,337.7v-3.6" stroke="#666" stroke-width="1" fill="none"/>
<rect x="294.4" y="182.8" width="229.80000000000007" height="154.89999999999998" fill="none" stroke="#666" stroke-width="1.05"/>
<path d="M294.4,200.01h2.0M524.2,200.01h-2.0M294.4,217.22h4.0M524.2,217.22h-4.0M294.4,234.43h2.0M524.2,234.43h-2.0M294.4,251.64h4.0M524.2,251.64h-4.0M294.4,268.86h2.0M524.2,268.86h-2.0M294.4,286.07h4.0M524.2,286.07h-4.0M294.4,303.28h2.0M524.2,303.28h-2.0M294.4,320.49h4.0M524.2,320.49h-4.0M328.50,182.8v3.6M328.50,337.7v-3.6M377.40,182.8v3.6M377.40,337.7v-3.6M431.00,182.8v3.6M431.00,337.7v-3.6M479.90,182.8v3.6M479.90,337.7v-3.6" stroke="#666" stroke-width="1" fill="none"/>
<g font-family="Liberation Serif, serif" font-size="14px" fill="#222">
<text x="30.6" y="12.9">10<tspan font-size="10.3px" dy="-5.9" dx="0.3">8</tspan></text>
<text x="30.6" y="47.7">10<tspan font-size="10.3px" dy="-5.9" dx="0.3">6</tspan></text>
<text x="30.6" y="82.6">10<tspan font-size="10.3px" dy="-5.9" dx="0.3">4</tspan></text>
<text x="30.6" y="117.4">10<tspan font-size="10.3px" dy="-5.9" dx="0.3">2</tspan></text>
<text x="43.7" y="152.5">1</text>
<text x="30.6" y="186.8">10<tspan font-size="10.3px" dy="-5.9" dx="0.3">8</tspan></text>
<text x="30.6" y="221.2">10<tspan font-size="10.3px" dy="-5.9" dx="0.3">6</tspan></text>
<text x="30.6" y="255.6">10<tspan font-size="10.3px" dy="-5.9" dx="0.3">4</tspan></text>
<text x="30.6" y="290.1">10<tspan font-size="10.3px" dy="-5.9" dx="0.3">2</tspan></text>
<text x="43.7" y="324.7">1</text>
<text x="88.0" y="355.6" text-anchor="middle" letter-spacing="0.4">0.1</text>
<text x="135.5" y="355.6" text-anchor="middle" letter-spacing="0.4">0.3</text>
<text x="187.5" y="355.6" text-anchor="middle">1</text>
<text x="235.0" y="355.6" text-anchor="middle">3</text>
<text x="328.4" y="355.6" text-anchor="middle" letter-spacing="0.4">0.1</text>
<text x="377.3" y="355.6" text-anchor="middle" letter-spacing="0.4">0.3</text>
<text x="430.9" y="355.6" text-anchor="middle">1</text>
<text x="479.8" y="355.6" text-anchor="middle">3</text>
<text transform="translate(67.12,152.00) scale(0.929,1)" font-size="18.21px" font-style="italic">t</text><line x1="74.2" y1="155.6" x2="80.0" y2="140.1" stroke="#222" stroke-width="0.85"/><g transform="translate(0.0,0.0)" stroke="#222" fill="none" stroke-linecap="round"><path d="M80.7,148.1C81.3,146.7 82.3,146.35 83.7,146.35L88.4,146.35" stroke-width="1.15"/><path d="M85.5,146.4C85.1,148 84.4,149.9 84.4,151C84.4,152 85.4,152.1 86.1,151.5" stroke-width="1.0"/></g><path d="M93.9,147.1h10.7M93.9,150.3h10.7" stroke="#222" stroke-width="0.85" fill="none"/><text x="109.5" y="152.1" font-size="15.2px">0</text>
<text transform="translate(306.42,152.00) scale(0.929,1)" font-size="18.21px" font-style="italic">t</text><line x1="313.5" y1="155.6" x2="319.3" y2="140.1" stroke="#222" stroke-width="0.85"/><g transform="translate(239.3,0.0)" stroke="#222" fill="none" stroke-linecap="round"><path d="M80.7,148.1C81.3,146.7 82.3,146.35 83.7,146.35L88.4,146.35" stroke-width="1.15"/><path d="M85.5,146.4C85.1,148 84.4,149.9 84.4,151C84.4,152 85.4,152.1 86.1,151.5" stroke-width="1.0"/></g><path d="M333.2,147.1h10.7M333.2,150.3h10.7" stroke="#222" stroke-width="0.85" fill="none"/><text x="348.8" y="152.1" font-size="15.2px">37</text>
<text transform="translate(67.12,324.50) scale(0.929,1)" font-size="18.21px" font-style="italic">t</text><line x1="74.2" y1="328.1" x2="80.0" y2="312.6" stroke="#222" stroke-width="0.85"/><g transform="translate(0.0,172.5)" stroke="#222" fill="none" stroke-linecap="round"><path d="M80.7,148.1C81.3,146.7 82.3,146.35 83.7,146.35L88.4,146.35" stroke-width="1.15"/><path d="M85.5,146.4C85.1,148 84.4,149.9 84.4,151C84.4,152 85.4,152.1 86.1,151.5" stroke-width="1.0"/></g><path d="M93.9,319.6h10.7M93.9,322.8h10.7" stroke="#222" stroke-width="0.85" fill="none"/><text x="109.5" y="324.6" font-size="15.2px">303</text>
<text transform="translate(306.42,324.50) scale(0.929,1)" font-size="18.21px" font-style="italic">t</text><line x1="313.5" y1="328.1" x2="319.3" y2="312.6" stroke="#222" stroke-width="0.85"/><g transform="translate(239.3,172.5)" stroke="#222" fill="none" stroke-linecap="round"><path d="M80.7,148.1C81.3,146.7 82.3,146.35 83.7,146.35L88.4,146.35" stroke-width="1.15"/><path d="M85.5,146.4C85.1,148 84.4,149.9 84.4,151C84.4,152 85.4,152.1 86.1,151.5" stroke-width="1.0"/></g><path d="M333.2,319.6h10.7M333.2,322.8h10.7" stroke="#222" stroke-width="0.85" fill="none"/><text x="348.8" y="324.6" font-size="15.2px">1212</text>
<text transform="translate(439.98,209.00) scale(1.026,1)" font-size="15.51px" font-style="italic">k</text>
<line x1="449.4" y1="200.9" x2="455.7" y2="200.9" stroke="#222" stroke-width="0.8"/>
<text x="456.4" y="203.8" font-size="8.7px">5</text>
<line x1="471.3" y1="204.9" x2="492.7" y2="204.9" stroke="#000" stroke-width="1.6"/>
<text x="216.0" y="380.4" font-size="17.4px" textLength="50.8" lengthAdjust="spacingAndGlyphs">Radial</text>
<text x="274.4" y="380.4" font-size="17.4px" textLength="88.2" lengthAdjust="spacingAndGlyphs">momentum</text>
<text transform="translate(370.38,380.40) scale(0.907,1)" font-size="17.54px" font-style="italic">k</text>
<text transform="translate(379.02,380.40) scale(1.114,1)" font-size="17.29px" font-style="italic">ξ</text>
<g transform="translate(14.1,267.9) rotate(-90)">
<text x="-0.5" y="0" font-size="17.4px" textLength="91.5" lengthAdjust="spacingAndGlyphs">Occupation</text>
<text x="97.0" y="0" font-size="17.4px" textLength="61.4" lengthAdjust="spacingAndGlyphs">number</text>
<text transform="translate(161.66,0.00) scale(1.093,1)" font-size="16.60px" font-style="italic">n</text>
<text transform="translate(173.56,0.00) scale(1.013,1)" font-size="18.29px">(</text>
<text transform="translate(180.36,0.00) scale(1.247,1)" font-size="17.68px" font-style="italic">k</text>
<text transform="translate(191.63,0.00) scale(1.013,1)" font-size="18.29px">)</text>
</g>
</g>
</svg>
</body></html>
